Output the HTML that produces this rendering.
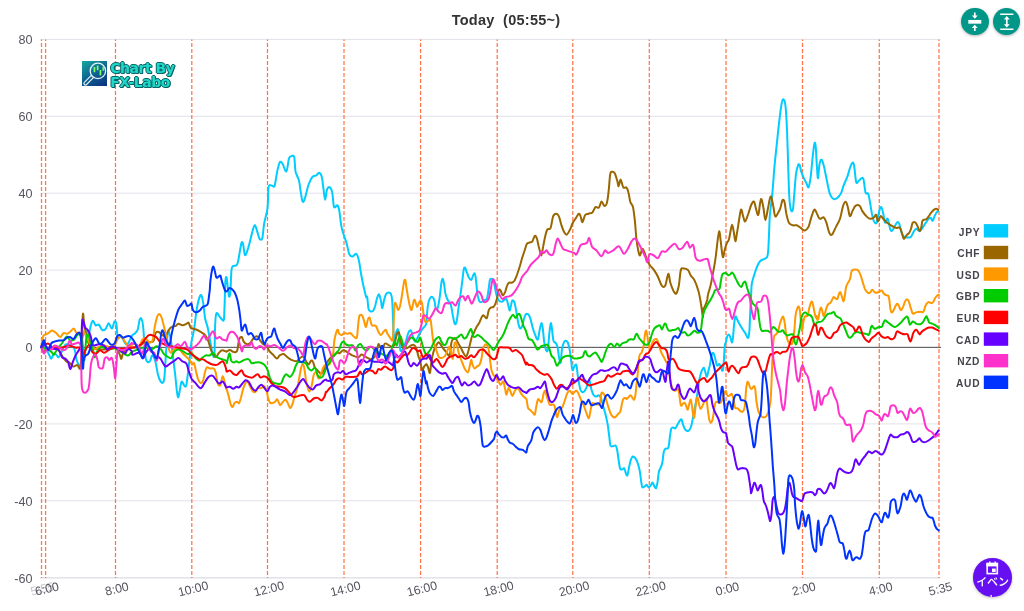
<!DOCTYPE html>
<html lang="ja"><head><meta charset="utf-8"><title>Today (05:55~)</title>
<style>
html,body{margin:0;padding:0;background:#fff;}
body{width:1024px;height:611px;position:relative;overflow:hidden;font-family:"Liberation Sans","Noto Sans CJK JP",sans-serif;}
svg text{font-family:"Liberation Sans","Noto Sans CJK JP",sans-serif;}
.title{position:absolute;left:0;top:10.6px;width:1012px;text-align:center;font-size:14.5px;letter-spacing:.25px;font-weight:bold;color:#333;white-space:pre;line-height:18px;}
.btn{position:absolute;width:27.6px;height:27.6px;border-radius:50%;background:#009688;box-shadow:0 1px 3px rgba(0,0,0,.3);}
.ev{position:absolute;left:973.2px;top:558.2px;width:38.6px;height:38.6px;border-radius:50%;background:#6610f2;box-shadow:0 1px 3px rgba(0,0,0,.25);color:#fff;text-align:center;overflow:hidden;}
.ev span{position:absolute;left:2px;right:2px;top:15.2px;font-size:11px;line-height:18px;font-weight:500;word-break:break-all;letter-spacing:-0.2px;}
.logo{position:absolute;left:81.5px;top:60.6px;width:25.6px;height:25.6px;background:linear-gradient(150deg,#17a8a0 0%,#0e6a92 45%,#0a2f80 100%);}
.logot{position:absolute;left:110.3px;top:60.55px;font-size:14px;line-height:14.2px;font-weight:bold;color:#1fd8c8;font-family:"DejaVu Sans","Liberation Sans",sans-serif;letter-spacing:-0.5px;text-shadow:1px 1px 0 #0a6468,-1px 0 0 #0a6468,0 -1px 0 #0a6468,1px 0 0 #0a6468,0 1px 0 #0a6468;}
</style></head><body>
<svg width="1024" height="611" viewBox="0 0 1024 611" style="position:absolute;left:0;top:0">
<line x1="40.6" x2="940.4" y1="39.4" y2="39.4" stroke="#e1e2ea" stroke-width="1"/>
<text x="32.5" y="44.0" text-anchor="end" font-size="12.6" fill="#555560">80</text>
<line x1="40.6" x2="940.4" y1="116.3" y2="116.3" stroke="#e1e2ea" stroke-width="1"/>
<text x="32.5" y="121.0" text-anchor="end" font-size="12.6" fill="#555560">60</text>
<line x1="40.6" x2="940.4" y1="193.2" y2="193.2" stroke="#e1e2ea" stroke-width="1"/>
<text x="32.5" y="198.0" text-anchor="end" font-size="12.6" fill="#555560">40</text>
<line x1="40.6" x2="940.4" y1="270.1" y2="270.1" stroke="#e1e2ea" stroke-width="1"/>
<text x="32.5" y="275.0" text-anchor="end" font-size="12.6" fill="#555560">20</text>
<line x1="41" x2="941" y1="347.0" y2="347.0" stroke="#e1e2ea" stroke-width="1"/>
<text x="32.5" y="352.0" text-anchor="end" font-size="12.6" fill="#555560">0</text>
<line x1="40.6" x2="940.4" y1="423.9" y2="423.9" stroke="#e1e2ea" stroke-width="1"/>
<text x="32.5" y="429.0" text-anchor="end" font-size="12.6" fill="#555560">-20</text>
<line x1="40.6" x2="940.4" y1="500.8" y2="500.8" stroke="#e1e2ea" stroke-width="1"/>
<text x="32.5" y="506.0" text-anchor="end" font-size="12.6" fill="#555560">-40</text>
<line x1="40.6" x2="940.4" y1="577.7" y2="577.7" stroke="#e1e2ea" stroke-width="1"/>
<text x="32.5" y="583.0" text-anchor="end" font-size="12.6" fill="#555560">-60</text>
<line x1="40.5" x2="940" y1="577.9" y2="577.9" stroke="#e2e2ea" stroke-width="1.3"/>
<line x1="41.5" x2="41.5" y1="39.5" y2="577.9" stroke="#ff6a3c" stroke-width="1.25" stroke-dasharray="4,2" stroke-dashoffset="2.5" opacity="0.92"/>
<line x1="45.6" x2="45.6" y1="39.5" y2="577.9" stroke="#ff6a3c" stroke-width="1.25" stroke-dasharray="4,2" stroke-dashoffset="2.5" opacity="0.92"/>
<line x1="115.5" x2="115.5" y1="39.5" y2="577.9" stroke="#ff6a3c" stroke-width="1.25" stroke-dasharray="4,2" stroke-dashoffset="2.5" opacity="0.92"/>
<line x1="191.8" x2="191.8" y1="39.5" y2="577.9" stroke="#ff6a3c" stroke-width="1.25" stroke-dasharray="4,2" stroke-dashoffset="2.5" opacity="0.92"/>
<line x1="267.5" x2="267.5" y1="39.5" y2="577.9" stroke="#ff6a3c" stroke-width="1.25" stroke-dasharray="4,2" stroke-dashoffset="2.5" opacity="0.92"/>
<line x1="344.0" x2="344.0" y1="39.5" y2="577.9" stroke="#ff6a3c" stroke-width="1.25" stroke-dasharray="4,2" stroke-dashoffset="2.5" opacity="0.92"/>
<line x1="420.6" x2="420.6" y1="39.5" y2="577.9" stroke="#ff6a3c" stroke-width="1.25" stroke-dasharray="4,2" stroke-dashoffset="2.5" opacity="0.92"/>
<line x1="497.2" x2="497.2" y1="39.5" y2="577.9" stroke="#ff6a3c" stroke-width="1.25" stroke-dasharray="4,2" stroke-dashoffset="2.5" opacity="0.92"/>
<line x1="572.8" x2="572.8" y1="39.5" y2="577.9" stroke="#ff6a3c" stroke-width="1.25" stroke-dasharray="4,2" stroke-dashoffset="2.5" opacity="0.92"/>
<line x1="649.3" x2="649.3" y1="39.5" y2="577.9" stroke="#ff6a3c" stroke-width="1.25" stroke-dasharray="4,2" stroke-dashoffset="2.5" opacity="0.92"/>
<line x1="726.0" x2="726.0" y1="39.5" y2="577.9" stroke="#ff6a3c" stroke-width="1.25" stroke-dasharray="4,2" stroke-dashoffset="2.5" opacity="0.92"/>
<line x1="802.5" x2="802.5" y1="39.5" y2="577.9" stroke="#ff6a3c" stroke-width="1.25" stroke-dasharray="4,2" stroke-dashoffset="2.5" opacity="0.92"/>
<line x1="879.3" x2="879.3" y1="39.5" y2="577.9" stroke="#ff6a3c" stroke-width="1.25" stroke-dasharray="4,2" stroke-dashoffset="2.5" opacity="0.92"/>
<line x1="939.0" x2="939.0" y1="39.5" y2="577.9" stroke="#ff6a3c" stroke-width="1.25" stroke-dasharray="4,2" stroke-dashoffset="2.5" opacity="0.92"/>
<line x1="41" x2="941" y1="347.4" y2="347.4" stroke="#555" stroke-width="1"/>
<path d="M41.2,347.1C41.9,347.3 43.9,346.9 45.2,348.2C46.5,349.5 48.1,353.0 49.1,354.7C50.1,356.5 50.4,358.6 51.1,358.7C51.7,358.8 52.3,356.2 53.0,355.4C53.8,354.6 54.8,353.8 55.6,354.1C56.5,354.4 57.5,357.2 58.3,357.4C59.0,357.5 59.6,355.8 60.2,354.7C60.9,353.6 61.2,352.6 62.2,350.8C63.2,349.1 64.1,344.7 66.1,344.3C68.1,343.8 72.2,345.6 74.0,348.2C75.7,350.8 75.7,357.1 76.6,360.0C77.4,362.8 78.4,364.1 79.2,365.2C80.0,366.3 80.6,371.1 81.2,366.5C81.7,361.9 81.5,343.6 82.5,337.7C83.4,331.8 86.0,331.9 87.0,331.2C88.1,330.4 88.4,334.2 89.0,333.1C89.7,332.1 90.3,326.7 91.0,324.6C91.6,322.6 92.2,320.6 92.9,320.7C93.7,320.8 94.6,324.6 95.6,325.3C96.5,325.9 97.7,323.9 98.8,324.6C99.9,325.4 101.0,329.1 102.1,329.9C103.2,330.6 104.3,330.3 105.4,329.2C106.5,328.1 107.6,323.4 108.6,323.3C109.7,323.2 110.9,328.9 111.9,328.6C112.9,328.2 113.8,322.0 114.5,321.4C115.3,320.7 116.0,321.9 116.5,324.6C117.0,327.4 117.0,335.8 117.8,337.7C118.6,339.7 119.9,335.5 121.1,336.4C122.3,337.3 123.9,341.6 125.0,343.0C126.1,344.3 126.5,345.4 127.6,344.3C128.7,343.2 130.6,338.0 131.5,336.4C132.5,334.8 132.6,335.0 133.2,334.5C133.8,334.0 134.4,334.1 135.2,333.2C135.9,332.3 137.0,331.6 137.8,329.3C138.5,327.0 139.1,321.2 139.7,319.5C140.4,317.7 140.9,317.8 141.4,318.8C142.0,319.8 142.5,321.4 143.0,325.3C143.5,329.3 143.9,336.9 144.3,342.4C144.8,347.8 145.1,354.8 145.6,358.1C146.2,361.3 146.8,361.6 147.6,362.0C148.4,362.4 149.5,361.8 150.2,360.7C151.0,359.6 151.3,355.2 152.2,355.4C153.1,355.7 154.5,358.7 155.5,362.0C156.4,365.3 157.2,371.8 158.1,375.1C158.9,378.4 159.8,380.4 160.7,381.6C161.6,382.8 162.6,383.4 163.3,382.3C164.0,381.2 164.2,379.1 164.6,375.1C165.0,371.0 165.3,363.5 165.7,358.1C166.0,352.6 166.4,346.9 166.8,342.4C167.3,337.8 167.8,330.6 168.5,330.6C169.3,330.6 170.4,337.8 171.2,342.4C171.9,346.9 172.5,352.8 173.1,358.1C173.8,363.3 174.4,368.1 175.1,373.8C175.7,379.4 176.5,388.2 177.0,392.1C177.6,396.0 177.9,397.5 178.4,397.3C178.8,397.1 179.1,393.4 179.7,390.8C180.2,388.2 180.9,382.5 181.6,381.6C182.4,380.8 183.5,384.9 184.2,385.5C185.0,386.2 185.6,387.9 186.2,385.5C186.9,383.2 187.6,375.7 188.2,371.2C188.8,366.6 189.2,362.9 189.7,358.1C190.3,353.3 190.7,347.2 191.4,342.4C192.2,337.6 193.2,334.7 194.1,329.3C194.9,323.8 195.8,314.9 196.7,309.6C197.6,304.4 198.5,300.3 199.3,297.9C200.1,295.5 200.6,294.4 201.3,295.2C201.9,296.1 202.6,299.2 203.2,303.1C203.9,307.0 204.4,314.7 205.2,318.8C206.0,322.9 206.9,324.0 207.8,328.0C208.7,331.9 209.7,338.2 210.4,342.4C211.2,346.5 211.7,350.6 212.4,352.8C213.0,355.0 213.9,359.4 214.4,355.4C214.8,351.5 214.7,336.2 215.0,329.3C215.3,322.3 215.4,315.5 216.3,313.6C217.2,311.6 219.0,316.3 220.2,317.5C221.4,318.7 222.9,321.1 223.5,320.8C224.2,320.4 224.0,319.6 224.2,315.4C224.4,311.3 224.7,301.7 224.9,295.8C225.1,289.9 225.2,283.2 225.5,280.1C225.8,277.1 226.2,276.4 226.6,277.5C226.9,278.6 227.3,283.5 227.7,286.6C228.2,289.8 228.6,295.6 229.1,296.5C229.5,297.3 230.0,296.1 230.4,291.9C230.8,287.6 231.0,275.2 231.4,270.9C231.8,266.7 232.0,267.3 232.7,266.4C233.5,265.4 235.1,266.2 236.0,265.4C236.9,264.7 237.1,265.5 238.0,261.8C238.9,258.1 240.5,246.2 241.4,243.4C242.2,240.6 242.6,242.7 243.2,244.7C243.8,246.7 244.2,254.7 245.0,255.2C245.9,255.6 247.2,251.3 248.4,247.3C249.7,243.4 251.3,235.3 252.4,231.6C253.4,227.9 254.1,224.9 255.0,225.1C255.8,225.3 256.8,230.6 257.6,232.9C258.4,235.2 258.9,238.1 259.7,239.0C260.5,239.8 261.6,240.7 262.3,238.2C263.0,235.6 263.3,228.8 264.1,223.8C265.0,218.8 266.8,214.2 267.5,208.1C268.3,202.0 267.8,190.8 268.6,187.1C269.3,183.4 271.0,186.0 272.0,185.8C273.0,185.6 273.7,188.2 274.6,185.8C275.5,183.4 276.4,175.3 277.2,171.4C278.1,167.5 279.0,163.6 279.8,162.3C280.7,160.9 281.4,162.0 282.5,163.6C283.6,165.1 285.3,172.3 286.4,171.4C287.5,170.5 288.1,160.9 289.0,158.3C289.9,155.8 290.8,156.4 291.6,156.2C292.5,156.0 293.6,154.5 294.2,157.0C294.9,159.5 294.8,167.5 295.5,171.4C296.3,175.3 298.1,177.1 299.0,180.6C299.8,184.1 300.2,188.9 300.8,192.4C301.4,195.8 302.0,200.4 302.6,201.5C303.3,202.6 303.7,201.7 304.7,198.9C305.7,196.1 307.3,188.2 308.6,184.5C309.9,180.8 311.3,178.2 312.6,176.6C313.9,175.1 315.4,176.0 316.5,175.3C317.6,174.7 318.2,172.5 319.1,172.7C320.0,172.9 321.0,173.8 321.7,176.6C322.5,179.5 323.0,185.9 323.6,189.7C324.1,193.6 324.6,199.7 325.1,199.7C325.7,199.7 326.2,191.8 327.0,189.7C327.7,187.6 328.7,186.7 329.6,187.1C330.5,187.6 331.5,189.1 332.2,192.4C332.9,195.6 333.2,204.6 334.0,206.8C334.9,208.9 336.6,204.8 337.4,205.4C338.3,206.1 338.6,207.2 339.3,210.7C339.9,214.2 340.6,222.2 341.4,226.4C342.1,230.5 343.1,232.7 344.0,235.5C344.9,238.4 345.7,240.3 346.6,243.4C347.5,246.5 348.3,251.7 349.2,253.9C350.2,256.1 351.2,256.5 352.4,256.5C353.5,256.5 355.2,253.2 356.3,253.9C357.4,254.5 358.1,257.1 358.9,260.4C359.7,263.7 360.2,269.1 361.0,273.5C361.8,277.9 362.7,282.7 363.6,286.6C364.5,290.5 365.6,295.3 366.2,297.1C366.8,298.8 366.8,295.1 367.2,297.0C367.6,299.0 368.0,306.4 368.5,308.8C369.1,311.2 369.7,311.1 370.5,311.4C371.3,311.7 372.4,311.6 373.1,310.8C373.9,309.9 374.4,308.3 375.1,306.2C375.7,304.1 376.4,300.3 377.0,298.3C377.7,296.4 378.4,294.0 379.0,294.4C379.7,294.8 380.4,298.7 381.0,300.9C381.5,303.2 381.7,308.4 382.3,308.1C382.8,307.9 383.6,302.0 384.2,299.6C384.9,297.2 385.4,294.9 386.2,293.7C387.0,292.5 388.1,292.4 388.8,292.4C389.6,292.4 390.2,292.5 390.8,293.7C391.3,294.9 391.7,295.4 392.1,299.6C392.5,303.9 392.8,313.2 393.0,319.3C393.3,325.4 393.4,332.4 393.5,336.3C393.7,340.2 393.8,343.0 394.1,342.8C394.4,342.6 394.8,337.3 395.4,335.0C396.0,332.7 397.1,329.1 397.7,329.1C398.4,329.1 398.9,331.8 399.3,335.0C399.7,338.1 399.6,345.3 400.0,348.1C400.3,350.8 400.7,351.3 401.3,351.3C401.8,351.3 402.5,349.7 403.2,348.1C404.0,346.4 405.0,344.1 405.8,341.5C406.7,338.9 407.6,334.2 408.5,332.4C409.3,330.5 410.2,330.0 410.8,330.4C411.5,330.8 411.7,333.1 412.4,335.0C413.1,336.8 414.1,341.1 415.0,341.5C415.9,342.0 416.8,339.1 417.6,337.6C418.5,336.1 419.4,333.9 420.2,332.4C421.1,330.8 421.9,329.7 422.9,328.4C423.8,327.1 425.4,326.2 426.0,324.5C426.6,322.8 426.3,321.3 426.7,318.0C427.0,314.8 427.4,308.2 428.0,304.9C428.5,301.7 429.2,299.7 429.9,298.4C430.7,297.1 431.8,296.7 432.5,297.1C433.3,297.5 434.0,299.1 434.5,301.0C435.1,303.0 435.3,307.8 435.8,308.9C436.4,310.0 437.1,309.5 437.8,307.6C438.4,305.6 439.1,301.2 439.7,297.1C440.4,292.9 440.9,285.8 441.4,282.7C441.9,279.6 442.3,278.6 442.8,278.8C443.2,279.0 443.6,281.4 444.1,284.0C444.5,286.6 444.9,291.6 445.6,294.5C446.3,297.3 447.4,299.3 448.3,301.0C449.1,302.8 450.1,302.5 450.9,304.9C451.6,307.3 452.2,312.3 452.8,315.4C453.5,318.6 454.1,323.1 454.8,323.9C455.5,324.8 456.1,323.6 456.8,320.7C457.4,317.7 458.1,310.8 458.7,306.3C459.4,301.7 460.1,297.5 460.7,293.2C461.3,288.8 461.9,284.0 462.4,280.1C462.9,276.2 463.3,271.7 463.7,269.6C464.1,267.5 464.5,267.3 465.0,267.6C465.5,268.0 466.0,270.0 466.6,271.6C467.2,273.1 467.8,275.4 468.5,276.8C469.3,278.2 470.4,280.3 471.2,280.1C471.9,279.9 472.5,276.6 473.1,275.5C473.7,274.4 474.2,272.8 474.7,273.5C475.2,274.3 475.6,276.8 476.0,280.1C476.4,283.4 476.8,289.8 477.3,293.2C477.8,296.5 478.4,298.8 479.0,300.4C479.6,301.9 480.2,302.3 481.0,302.3C481.7,302.3 482.6,301.0 483.6,300.4C484.6,299.7 486.0,300.3 486.9,298.4C487.7,296.5 488.1,292.3 488.6,289.2C489.1,286.2 489.4,281.8 489.9,280.1C490.4,278.3 490.9,278.8 491.4,278.8C492.0,278.8 492.9,278.8 493.4,280.1C494.0,281.4 494.2,284.0 494.7,286.6C495.3,289.2 496.0,293.5 496.7,295.8C497.3,298.1 497.8,299.4 498.6,300.4C499.5,301.3 500.9,301.8 501.9,301.7C502.9,301.6 503.8,300.1 504.5,299.7C505.3,299.3 505.9,298.2 506.5,299.1C507.1,299.9 507.7,303.0 508.2,304.9C508.7,306.9 509.3,310.8 509.8,310.8C510.2,310.8 510.6,306.7 511.1,304.9C511.5,303.2 511.8,300.8 512.4,300.4C512.9,299.9 513.7,300.5 514.4,302.3C515.0,304.2 515.7,308.0 516.3,311.5C517.0,315.0 517.6,320.4 518.3,323.3C518.9,326.1 519.6,328.1 520.2,328.5C520.9,328.9 521.5,327.6 522.2,325.9C522.9,324.1 523.5,320.0 524.2,318.0C524.8,316.1 525.6,314.8 526.0,314.1C526.4,313.4 526.2,314.0 526.7,314.1C527.1,314.1 528.0,313.7 528.6,314.6C529.3,315.4 529.9,317.1 530.6,319.2C531.2,321.2 531.8,324.4 532.5,327.0C533.3,329.6 534.3,332.8 535.2,334.9C536.0,336.9 537.0,340.3 537.8,339.5C538.5,338.6 539.1,332.4 539.7,329.6C540.4,326.9 540.9,323.3 541.4,323.1C541.9,322.9 542.3,325.1 542.8,328.3C543.2,331.6 543.7,339.0 544.3,342.7C544.9,346.4 545.7,349.5 546.3,350.6C546.9,351.7 547.5,352.1 548.0,349.3C548.5,346.4 548.8,337.9 549.3,333.6C549.8,329.2 550.4,323.5 550.9,323.1C551.3,322.7 551.7,328.0 552.2,330.9C552.6,333.9 552.8,338.7 553.5,340.8C554.1,342.8 555.4,342.2 556.1,343.4C556.8,344.6 557.1,345.2 557.7,348.0C558.2,350.7 558.9,357.3 559.4,359.7C559.9,362.1 560.2,364.1 560.7,362.4C561.1,360.6 561.4,352.6 562.0,349.3C562.5,345.9 563.3,343.5 564.0,342.1C564.6,340.7 565.3,340.7 565.9,340.8C566.6,340.9 567.2,341.1 567.9,342.7C568.5,344.4 569.3,347.5 569.8,350.6C570.4,353.6 570.7,357.8 571.2,361.0C571.6,364.3 571.9,369.3 572.5,370.2C573.0,371.1 573.8,367.2 574.4,366.3C575.1,365.4 575.8,363.5 576.4,365.0C576.9,366.4 577.3,372.1 577.7,375.1C578.1,378.0 578.6,380.5 579.0,382.9C579.4,385.3 579.8,387.9 580.3,389.5C580.9,391.0 581.6,391.7 582.3,392.1C582.9,392.4 583.6,392.1 584.2,391.4C584.9,390.8 585.7,389.3 586.2,388.1C586.8,386.9 587.1,385.5 587.5,384.2C588.0,382.9 588.4,380.5 588.8,380.3C589.3,380.1 589.7,381.4 590.1,382.9C590.6,384.4 590.9,387.5 591.4,389.5C592.0,391.4 592.6,393.5 593.4,394.7C594.2,395.9 595.2,396.5 596.0,396.6C596.9,396.8 597.9,395.2 598.6,395.3C599.4,395.4 600.1,396.3 600.6,397.3C601.2,398.3 601.5,399.7 601.9,401.2C602.4,402.8 602.6,404.3 603.2,406.5C603.8,408.6 604.7,411.0 605.4,414.1C606.2,417.2 607.1,421.2 607.8,425.1C608.4,429.1 608.9,434.3 609.4,437.7C609.8,441.1 609.9,444.1 610.4,445.5C611.0,447.0 611.6,446.3 612.5,446.3C613.4,446.3 614.8,444.9 615.6,445.5C616.4,446.2 616.7,447.6 617.2,450.3C617.7,452.9 618.3,458.1 618.8,461.3C619.3,464.4 619.7,467.8 620.3,469.1C621.0,470.4 622.0,469.2 622.7,469.1C623.4,469.0 623.7,467.7 624.3,468.3C624.8,469.0 625.3,471.9 625.8,473.0C626.4,474.2 626.9,476.3 627.4,475.4C627.9,474.5 628.4,470.2 629.0,467.5C629.6,464.9 630.2,461.5 630.9,459.7C631.5,457.9 632.2,456.8 632.9,456.5C633.6,456.3 634.5,457.1 635.3,458.1C636.1,459.2 636.9,460.7 637.6,462.8C638.4,464.9 639.1,467.5 639.7,470.7C640.3,473.8 640.8,478.9 641.2,481.7C641.7,484.4 641.8,486.4 642.3,487.2C642.9,488.0 644.0,486.8 644.7,486.4C645.4,486.0 645.9,484.7 646.6,484.8C647.2,484.9 647.9,487.0 648.6,487.2C649.3,487.3 650.0,486.4 650.7,485.6C651.3,484.8 651.9,482.3 652.5,482.5C653.2,482.6 653.8,485.5 654.4,486.4C655.0,487.3 655.6,488.7 656.2,488.0C656.7,487.2 657.1,484.3 657.6,481.7C658.0,479.1 658.3,474.6 658.8,472.2C659.3,469.9 660.1,469.1 660.7,467.5C661.3,466.0 661.8,465.4 662.3,462.8C662.8,460.2 663.3,454.2 663.8,451.8C664.4,449.5 664.7,449.3 665.4,448.7C666.2,448.0 667.5,449.7 668.2,447.9C669.0,446.1 669.3,440.8 669.8,437.7C670.3,434.6 670.6,430.8 671.1,429.1C671.6,427.4 672.3,427.6 673.0,427.5C673.7,427.4 674.5,428.8 675.3,428.3C676.1,427.7 676.9,425.7 677.7,424.3C678.5,423.0 679.4,421.2 680.0,420.4C680.7,419.6 681.1,418.8 681.6,419.6C682.1,420.4 682.5,423.4 683.2,425.1C683.8,426.8 684.6,428.9 685.5,429.8C686.4,430.8 687.7,431.2 688.7,430.6C689.6,430.1 690.4,428.5 691.0,426.7C691.7,424.9 692.1,422.3 692.6,419.6C693.1,417.0 693.6,413.7 694.2,411.0C694.7,408.2 695.2,406.0 695.7,403.1C696.3,400.3 696.8,396.9 697.3,393.8C697.8,390.8 698.2,387.5 698.6,384.7C699.1,381.8 699.4,379.2 700.0,376.8C700.5,374.4 701.3,371.8 701.9,370.3C702.6,368.8 703.3,367.5 703.9,367.7C704.4,367.9 704.7,370.1 705.2,371.6C705.7,373.1 706.3,377.1 706.9,376.8C707.4,376.6 708.0,372.2 708.5,370.3C708.9,368.4 709.2,368.0 709.8,365.4C710.3,362.9 711.1,357.0 711.7,355.0C712.3,352.9 712.9,352.6 713.4,353.0C714.0,353.4 714.4,355.5 715.0,357.6C715.6,359.7 716.2,364.4 717.0,365.4C717.7,366.5 718.7,363.3 719.6,364.1C720.5,365.0 721.5,370.5 722.2,370.7C722.9,370.9 723.1,369.6 723.5,365.4C723.9,361.3 724.4,349.7 724.8,345.8C725.2,341.9 725.6,343.4 726.0,341.9C726.4,340.4 726.7,337.9 727.1,336.7C727.6,335.5 728.3,334.4 728.8,334.5C729.4,334.6 729.9,336.0 730.4,337.4C730.9,338.7 731.5,342.6 732.0,342.6C732.4,342.6 732.7,340.4 733.0,337.4C733.4,334.3 733.7,327.8 734.1,324.3C734.5,320.8 734.9,317.3 735.4,316.4C735.9,315.5 736.2,317.7 736.9,319.0C737.6,320.3 738.6,322.5 739.6,324.3C740.5,326.0 741.9,328.0 742.8,329.5C743.8,331.0 744.6,332.0 745.5,333.4C746.3,334.8 747.4,338.4 748.1,338.0C748.7,337.6 749.0,335.3 749.4,330.8C749.7,326.3 750.0,317.1 750.3,311.2C750.6,305.3 750.8,299.9 751.1,295.5C751.3,291.0 751.3,287.5 751.7,284.3C752.2,281.2 752.9,279.1 753.7,276.5C754.5,273.9 755.4,270.9 756.3,268.6C757.2,266.3 758.1,264.2 758.9,262.7C759.8,261.3 760.6,260.8 761.5,260.1C762.5,259.5 763.8,259.5 764.8,258.8C765.8,258.2 766.9,258.1 767.4,256.2C768.0,254.3 768.1,251.7 768.4,247.7C768.6,243.7 768.9,237.3 769.1,232.0C769.4,226.7 769.3,222.7 769.8,216.1C770.4,209.6 771.7,200.9 772.4,192.6C773.2,184.3 773.7,175.1 774.5,166.4C775.3,157.7 776.3,148.5 777.2,140.2C778.0,131.9 779.0,123.0 779.8,116.6C780.6,110.3 781.2,105.1 781.9,102.3C782.5,99.4 783.1,99.0 783.7,99.6C784.3,100.3 785.0,100.7 785.5,106.2C786.1,111.6 786.7,122.8 787.1,132.4C787.5,142.0 787.8,153.3 788.1,163.8C788.5,174.2 788.8,187.5 789.2,195.2C789.6,202.8 790.2,207.2 790.8,209.6C791.4,212.0 792.3,212.0 792.9,209.6C793.4,207.2 793.6,201.1 794.2,195.2C794.7,189.3 795.3,179.3 796.0,174.2C796.7,169.2 797.5,166.6 798.1,165.1C798.7,163.6 799.1,164.0 799.7,165.1C800.2,166.2 800.5,169.4 801.2,171.6C801.9,173.8 803.0,176.2 803.9,178.2C804.7,180.1 805.7,181.9 806.5,183.4C807.3,184.9 807.9,188.4 808.6,187.3C809.3,186.2 810.0,181.7 810.7,176.9C811.3,172.1 811.9,164.0 812.5,158.5C813.1,153.1 813.8,146.3 814.3,144.1C814.8,142.0 815.2,141.7 815.6,145.4C816.1,149.2 816.5,160.9 816.9,166.4C817.3,171.8 817.6,178.6 818.0,178.2C818.4,177.7 818.9,166.8 819.6,163.8C820.2,160.7 820.9,159.2 821.7,159.8C822.4,160.5 823.4,164.2 824.3,167.7C825.1,171.2 826.0,176.6 826.9,180.8C827.8,184.9 828.6,189.7 829.5,192.6C830.4,195.4 831.2,196.7 832.1,197.8C833.1,198.9 834.2,199.3 835.3,199.1C836.4,198.9 837.7,197.6 838.7,196.5C839.7,195.4 840.4,194.5 841.3,192.6C842.2,190.6 842.9,187.3 843.9,184.7C844.9,182.1 846.2,179.9 847.3,176.9C848.4,173.8 849.5,168.8 850.5,166.4C851.4,164.0 852.4,162.2 853.1,162.5C853.7,162.7 853.9,164.4 854.4,167.7C854.9,171.0 855.5,179.9 856.2,182.1C857.0,184.3 858.0,181.4 858.8,180.8C859.7,180.1 860.7,178.4 861.4,178.2C862.2,177.9 862.8,177.1 863.5,179.5C864.2,181.9 864.8,190.2 865.6,192.6C866.4,195.0 867.5,192.1 868.3,193.9C869.0,195.6 869.5,199.8 870.1,203.0C870.7,206.3 871.3,210.5 871.9,213.5C872.6,216.6 873.2,219.8 874.0,221.4C874.8,222.9 875.8,224.4 876.6,222.7C877.5,220.9 878.5,213.5 879.2,210.9C880.0,208.3 880.7,206.5 881.3,207.0C882.0,207.4 882.6,210.9 883.2,213.5C883.8,216.1 884.3,221.8 885.0,222.7C885.7,223.5 886.8,217.7 887.6,218.7C888.5,219.8 889.5,227.3 890.2,229.2C891.0,231.2 891.4,231.4 892.3,230.5C893.3,229.7 895.1,225.4 896.0,224.0C896.9,222.6 897.2,222.0 897.8,222.1C898.4,222.2 899.1,223.2 899.6,224.6C900.1,225.9 900.3,228.3 900.8,230.0C901.3,231.8 902.1,233.8 902.7,234.9C903.3,236.1 903.7,236.4 904.5,236.8C905.3,237.2 906.5,237.3 907.6,237.4C908.6,237.4 909.8,237.6 910.6,237.1C911.4,236.6 911.8,235.4 912.4,234.3C913.0,233.2 913.6,231.6 914.3,230.7C915.0,229.7 916.0,228.8 916.7,228.8C917.4,228.8 917.8,230.5 918.5,230.7C919.3,230.9 920.2,230.8 921.0,230.0C921.8,229.3 922.6,227.6 923.4,226.4C924.2,225.2 925.0,223.9 925.9,222.7C926.7,221.5 927.5,219.9 928.3,219.1C929.1,218.2 930.0,217.5 930.7,217.8C931.5,218.1 932.0,221.1 932.6,220.9C933.2,220.7 933.8,217.9 934.4,216.6C935.0,215.3 935.6,213.9 936.2,213.0C936.8,212.0 937.8,211.4 938.1,211.1" fill="none" stroke="#00ccff" stroke-width="2" stroke-linejoin="round" stroke-linecap="round"/>
<path d="M41.2,347.1C41.7,348.0 43.1,351.7 43.9,352.1C44.6,352.5 44.9,350.2 45.8,349.5C46.7,348.8 47.7,348.3 49.1,348.2C50.5,348.1 52.7,348.5 54.3,348.8C56.0,349.2 57.6,349.0 58.9,350.2C60.2,351.4 61.0,354.2 62.2,356.0C63.4,357.9 64.9,360.2 66.1,361.3C67.3,362.4 68.2,361.7 69.4,362.6C70.6,363.5 72.0,366.1 73.3,366.5C74.6,366.9 76.0,364.7 77.2,364.9C78.4,365.2 79.7,371.3 80.5,367.8C81.3,364.4 81.4,353.2 81.8,344.3C82.2,335.3 82.5,317.4 82.9,314.2C83.3,310.9 83.6,321.1 84.2,324.6C84.8,328.1 85.7,332.1 86.4,335.1C87.1,338.2 87.4,340.8 88.4,343.0C89.3,345.1 90.1,347.1 92.3,348.2C94.5,349.3 98.6,349.4 101.4,349.5C104.3,349.6 106.9,349.1 109.3,348.8C111.7,348.6 114.1,347.2 115.8,348.2C117.6,349.2 118.9,352.9 119.8,354.7C120.7,356.5 120.8,359.1 121.3,358.9C121.9,358.7 122.2,355.0 123.0,353.4C123.9,351.9 124.5,350.5 126.3,349.5C128.1,348.5 131.7,348.1 133.9,347.6C136.0,347.1 137.3,347.2 139.1,346.3C140.8,345.4 142.7,343.0 144.3,342.4C146.0,341.7 147.4,342.6 148.9,342.4C150.4,342.1 152.4,342.6 153.5,341.0C154.6,339.5 154.6,334.7 155.5,333.2C156.3,331.7 157.7,331.7 158.7,331.9C159.7,332.1 160.2,333.8 161.3,334.5C162.4,335.2 164.0,336.7 165.3,335.8C166.6,334.9 168.0,330.8 169.2,329.3C170.4,327.7 171.4,327.2 172.5,326.6C173.6,326.1 174.8,326.5 175.7,326.0C176.7,325.5 177.3,323.9 178.4,323.8C179.4,323.7 181.0,325.3 182.3,325.3C183.6,325.4 185.2,324.5 186.2,324.0C187.3,323.6 187.8,322.1 188.6,322.7C189.3,323.4 189.7,326.9 190.8,328.0C191.9,329.0 193.7,328.6 195.4,329.3C197.0,329.9 199.1,331.0 200.6,331.9C202.1,332.8 203.3,333.2 204.5,334.5C205.7,335.8 206.7,337.1 207.8,339.7C208.9,342.4 210.1,347.6 211.1,350.2C212.1,352.8 212.8,354.4 213.7,355.4C214.6,356.5 215.4,357.2 216.3,356.8C217.2,356.3 218.0,353.9 218.9,352.8C219.9,351.7 221.0,350.4 222.2,350.2C223.4,350.0 225.3,351.3 226.0,351.5C226.7,351.7 226.0,351.8 226.7,351.5C227.3,351.3 228.7,350.0 229.9,350.1C231.1,350.2 232.7,352.0 233.9,352.1C235.1,352.2 236.3,352.8 237.1,350.8C238.0,348.7 238.3,341.9 239.1,339.6C239.9,337.3 240.9,336.7 241.7,337.0C242.5,337.3 242.8,340.4 243.7,341.6C244.5,342.8 245.9,344.0 246.9,344.2C248.0,344.4 249.1,343.9 250.2,342.9C251.3,341.9 252.3,339.4 253.5,338.3C254.7,337.2 256.3,336.0 257.4,336.4C258.5,336.7 259.0,339.0 260.0,340.3C261.0,341.6 262.2,343.2 263.3,344.2C264.4,345.2 265.6,345.1 266.6,346.2C267.6,347.3 268.1,349.3 269.2,350.8C270.3,352.2 271.8,353.4 273.1,354.7C274.4,356.0 276.0,358.5 277.0,358.6C278.1,358.7 278.6,356.1 279.7,355.3C280.8,354.6 282.3,353.7 283.6,354.0C284.9,354.4 286.2,356.3 287.5,357.3C288.8,358.3 289.9,359.3 291.4,359.9C293.0,360.6 295.3,361.6 296.7,361.2C298.1,360.9 298.9,358.7 300.0,358.0C301.0,357.2 302.2,356.2 303.2,356.6C304.2,357.1 305.0,359.3 305.8,360.6C306.7,361.9 307.6,364.5 308.5,364.5C309.3,364.5 310.3,361.0 311.1,360.6C311.8,360.1 312.4,360.7 313.0,361.9C313.7,363.1 314.2,366.4 315.0,367.8C315.8,369.2 316.6,369.4 317.6,370.4C318.6,371.4 319.9,373.6 320.9,373.7C321.9,373.8 322.6,372.8 323.5,371.0C324.5,369.3 325.6,365.2 326.7,363.1C327.7,361.0 328.7,359.7 329.9,358.5C331.1,357.3 332.7,356.9 333.9,355.9C335.1,354.9 336.1,353.1 337.1,352.6C338.1,352.2 338.9,353.6 339.7,353.3C340.6,353.0 341.5,351.1 342.4,350.7C343.2,350.2 343.9,350.2 345.0,350.7C346.1,351.1 347.5,352.4 348.9,353.3C350.3,354.2 351.9,355.3 353.5,355.9C355.1,356.6 357.4,357.4 358.7,357.2C360.0,357.0 360.2,354.7 361.3,354.6C362.4,354.5 363.7,355.8 365.3,356.6C366.8,357.3 369.0,359.1 370.5,359.2C372.0,359.3 373.3,358.6 374.4,357.2C375.5,355.8 376.4,352.9 377.0,350.7C377.7,348.5 377.8,344.8 378.4,344.1C378.9,343.5 379.6,346.1 380.3,346.8C381.1,347.4 382.2,348.6 382.9,348.1C383.7,347.5 384.0,344.0 384.9,343.5C385.8,342.9 387.1,344.2 388.2,344.8C389.3,345.3 390.5,346.6 391.4,346.8C392.4,346.9 393.3,347.0 394.1,345.4C394.8,343.9 395.4,339.8 396.0,337.6C396.6,335.4 397.2,333.0 397.7,332.4C398.3,331.7 398.8,332.1 399.3,333.7C399.8,335.2 400.0,339.1 400.6,341.5C401.3,343.9 402.1,347.0 403.2,348.1C404.3,349.2 405.8,348.5 407.2,348.1C408.5,347.6 410.0,346.0 411.1,345.4C412.2,344.9 412.8,344.4 413.7,344.8C414.6,345.2 415.6,346.2 416.3,348.1C417.1,349.9 417.6,353.7 418.3,355.9C418.9,358.1 419.6,358.8 420.2,361.2C420.9,363.6 421.5,369.4 422.2,370.3C422.9,371.2 423.5,367.4 424.2,366.4C424.8,365.4 425.6,364.8 426.0,364.4C426.4,364.1 426.3,363.9 426.7,364.4C427.0,364.8 427.4,365.7 428.0,367.1C428.5,368.6 429.4,373.7 429.9,373.0C430.5,372.4 430.7,366.6 431.2,363.2C431.8,359.8 432.4,355.6 433.2,352.7C434.0,349.9 434.9,347.9 435.8,346.2C436.7,344.4 437.7,342.6 438.4,342.3C439.2,341.9 439.6,343.2 440.4,344.2C441.2,345.2 442.0,346.8 443.0,348.1C444.0,349.5 445.2,350.9 446.3,352.1C447.4,353.3 448.7,357.0 449.6,355.3C450.4,353.7 450.9,345.0 451.5,342.3C452.2,339.5 452.8,339.6 453.5,339.0C454.1,338.3 454.7,337.7 455.5,338.3C456.2,339.0 457.2,341.4 458.1,342.9C458.9,344.4 459.8,345.9 460.7,347.5C461.6,349.1 462.4,351.2 463.3,352.7C464.2,354.2 465.2,356.6 465.9,356.6C466.7,356.6 467.2,354.7 467.9,352.7C468.5,350.8 469.2,347.5 469.8,344.9C470.5,342.3 471.2,339.0 471.8,337.0C472.5,335.1 473.0,334.7 473.8,333.1C474.5,331.5 475.5,328.8 476.4,327.2C477.3,325.6 478.2,324.7 479.0,323.3C479.8,321.9 480.3,320.0 481.0,318.7C481.6,317.4 482.3,315.7 482.9,315.4C483.6,315.1 484.2,316.3 484.9,316.7C485.6,317.2 486.2,319.1 486.9,318.0C487.5,316.9 488.2,311.9 488.8,310.2C489.5,308.4 490.0,308.1 490.8,307.6C491.6,307.0 492.6,307.6 493.4,306.9C494.2,306.3 494.7,305.3 495.4,303.6C496.0,302.0 496.8,299.3 497.3,297.1C497.9,294.9 498.1,291.7 498.6,290.5C499.1,289.3 499.8,289.3 500.3,289.9C500.9,290.4 501.4,292.9 501.9,293.8C502.4,294.7 502.7,295.5 503.2,295.1C503.8,294.8 504.5,293.5 505.2,291.9C505.8,290.2 506.5,286.8 507.2,285.3C507.8,283.8 508.4,283.1 509.1,282.7C509.9,282.3 510.9,283.0 511.7,282.7C512.6,282.4 513.5,282.0 514.4,280.7C515.2,279.4 516.1,277.1 517.0,274.8C517.8,272.6 518.7,269.8 519.6,267.0C520.5,264.2 521.3,260.7 522.2,257.8C523.1,255.0 524.0,252.3 524.8,250.0C525.6,247.6 526.2,245.0 526.9,243.8C527.7,242.5 528.7,242.8 529.6,242.5C530.4,242.1 531.3,242.8 532.2,241.7C533.1,240.6 534.0,236.4 534.8,235.9C535.6,235.4 536.2,236.8 536.9,238.5C537.5,240.3 538.0,243.6 538.7,246.4C539.5,249.2 540.6,255.5 541.3,255.5C542.1,255.5 542.5,249.7 543.2,246.4C543.8,243.1 544.6,238.8 545.3,235.9C546.0,233.1 546.5,230.7 547.4,229.4C548.2,228.1 549.5,230.2 550.5,228.1C551.5,225.9 552.2,218.7 553.1,216.3C554.1,213.9 555.3,213.7 556.3,213.7C557.2,213.7 558.0,214.3 558.9,216.3C559.8,218.2 560.6,222.8 561.5,225.4C562.4,228.1 563.2,230.5 564.1,232.0C565.0,233.5 565.7,235.0 566.7,234.6C567.7,234.2 569.1,231.3 570.1,229.4C571.1,227.4 571.8,224.8 572.8,222.8C573.8,220.9 575.2,219.1 576.2,217.6C577.2,216.1 578.0,213.9 578.8,213.7C579.5,213.4 580.0,214.8 580.6,216.3C581.2,217.7 581.7,222.5 582.4,222.3C583.2,222.1 584.1,216.4 585.1,215.0C586.1,213.5 587.2,214.1 588.5,213.7C589.7,213.2 591.2,213.4 592.4,212.4C593.6,211.3 594.4,207.9 595.5,207.1C596.6,206.3 597.9,208.6 598.9,207.6C599.9,206.7 600.7,201.7 601.5,201.4C602.4,201.1 603.3,205.5 604.2,205.8C605.0,206.1 606.0,205.6 606.8,203.2C607.5,200.8 608.1,196.2 608.6,191.4C609.2,186.6 609.6,177.7 610.2,174.4C610.8,171.1 611.3,172.0 612.0,171.8C612.8,171.6 613.8,171.6 614.6,173.1C615.5,174.6 616.6,178.8 617.3,180.9C617.9,183.1 618.0,186.4 618.6,186.2C619.1,186.0 619.9,179.4 620.7,179.6C621.4,179.9 622.3,186.2 623.3,187.5C624.2,188.8 625.5,186.6 626.4,187.5C627.3,188.4 627.9,190.3 628.5,192.7C629.2,195.1 629.6,199.5 630.3,201.9C631.1,204.3 632.2,204.1 633.0,207.1C633.7,210.2 634.2,215.0 634.8,220.2C635.4,225.4 635.8,233.5 636.4,238.5C636.9,243.6 637.6,247.5 638.2,250.3C638.8,253.2 639.4,255.8 640.0,255.5C640.7,255.3 641.4,249.7 642.1,249.0C642.8,248.4 643.3,249.7 644.2,251.6C645.1,253.6 646.3,258.4 647.4,260.8C648.4,263.2 649.4,264.5 650.5,266.0C651.6,267.5 652.7,268.2 653.9,269.9C655.1,271.7 656.5,273.9 657.8,276.5C659.1,279.1 660.5,284.1 661.8,285.7C663.0,287.2 664.1,287.6 665.2,285.7C666.3,283.7 667.4,274.3 668.3,273.9C669.2,273.4 669.5,280.2 670.4,283.0C671.3,285.9 672.6,289.1 673.5,290.9C674.5,292.6 675.3,294.4 676.2,293.5C677.0,292.6 678.0,289.6 678.8,285.7C679.6,281.7 680.0,272.8 680.9,269.9C681.7,267.1 682.8,268.6 684.0,268.6C685.2,268.6 686.8,268.9 687.9,269.9C689.0,271.0 689.5,273.4 690.6,275.2C691.6,276.9 693.2,277.8 694.5,280.4C695.8,283.0 697.3,287.0 698.4,290.9C699.5,294.8 700.3,299.6 701.0,304.0C701.8,308.3 702.5,316.2 702.9,317.1C703.2,317.9 702.9,310.8 703.2,309.2C703.5,307.5 703.9,308.7 704.5,307.2C705.2,305.7 706.6,302.0 707.2,300.0C707.7,298.0 707.3,297.3 707.9,294.9C708.4,292.6 709.6,289.4 710.5,285.7C711.4,281.9 712.2,277.4 713.1,272.6C714.0,267.8 715.0,262.3 715.7,256.9C716.5,251.4 717.1,244.1 717.7,239.8C718.3,235.6 718.9,231.1 719.4,231.3C719.9,231.6 720.2,237.3 720.7,241.2C721.2,245.0 721.8,251.6 722.3,254.2C722.7,256.9 722.9,257.7 723.3,256.9C723.8,256.0 724.3,251.3 724.9,249.0C725.5,246.7 726.2,244.6 726.9,243.1C727.5,241.6 728.2,241.7 728.8,239.8C729.4,238.0 729.9,234.5 730.4,232.0C730.9,229.5 731.5,224.8 732.1,224.8C732.7,224.8 733.3,229.3 733.8,232.0C734.3,234.7 734.8,240.9 735.4,241.2C735.9,241.4 736.4,236.4 736.9,233.3C737.5,230.2 738.0,226.8 738.6,222.8C739.3,218.9 740.3,210.7 741.0,209.6C741.8,208.5 742.4,214.2 743.1,216.1C743.8,218.1 744.3,221.8 745.2,221.4C746.1,220.9 747.3,216.3 748.4,213.5C749.4,210.7 750.5,206.3 751.5,204.3C752.5,202.4 753.3,200.9 754.1,201.7C754.9,202.6 755.5,207.4 756.2,209.6C756.9,211.8 757.6,215.9 758.3,214.8C759.0,213.7 759.6,205.7 760.1,203.0C760.7,200.4 760.9,198.2 761.4,199.1C762.0,200.0 762.9,204.8 763.5,208.3C764.2,211.8 764.6,220.1 765.4,220.1C766.1,220.1 767.1,212.2 768.0,208.3C768.9,204.3 769.7,196.9 770.6,196.5C771.5,196.1 772.5,202.4 773.2,205.7C774.0,208.9 774.3,214.8 775.1,216.1C775.8,217.4 776.8,214.8 777.7,213.5C778.5,212.2 779.5,210.5 780.3,208.3C781.1,206.1 781.7,201.5 782.4,200.4C783.1,199.3 783.8,199.5 784.5,201.7C785.1,203.9 785.6,210.0 786.3,213.5C787.1,217.0 787.8,220.7 788.9,222.7C790.0,224.6 791.5,224.9 792.9,225.3C794.2,225.7 795.5,224.9 796.8,225.3C798.1,225.7 799.4,227.0 800.7,227.9C802.0,228.8 803.3,230.7 804.6,230.5C805.9,230.3 807.4,229.0 808.6,226.6C809.7,224.2 810.7,219.0 811.7,216.1C812.7,213.3 813.5,210.0 814.3,209.6C815.2,209.1 816.1,212.0 816.9,213.5C817.8,215.0 818.4,218.1 819.6,218.7C820.7,219.4 822.6,216.8 823.7,217.4C824.9,218.1 825.4,220.1 826.4,222.7C827.3,225.3 828.5,231.2 829.5,233.1C830.5,235.1 831.0,235.5 832.1,234.5C833.2,233.4 834.7,229.2 836.1,226.6C837.4,224.0 838.8,222.2 840.0,218.7C841.2,215.3 842.2,208.5 843.1,205.7C844.1,202.8 845.0,201.5 845.7,201.7C846.5,201.9 847.1,204.6 847.8,207.0C848.5,209.4 849.1,215.5 849.9,216.1C850.7,216.8 851.6,212.6 852.5,210.9C853.5,209.1 854.5,206.5 855.7,205.7C856.9,204.8 858.5,204.8 859.6,205.7C860.7,206.5 861.1,209.1 862.2,210.9C863.3,212.6 864.8,214.8 866.2,216.1C867.5,217.4 868.8,218.5 870.1,218.7C871.4,219.0 873.0,218.1 874.0,217.4C875.0,216.8 875.5,214.2 876.1,214.8C876.8,215.5 877.2,221.1 877.9,221.4C878.7,221.6 879.7,216.6 880.6,216.1C881.4,215.7 882.1,217.7 883.2,218.7C884.3,219.8 885.8,221.6 887.1,222.7C888.4,223.8 889.5,224.4 891.0,225.3C892.5,226.2 894.9,227.5 896.0,227.9C897.1,228.3 897.1,227.6 897.8,227.6C898.5,227.7 899.5,227.2 900.2,228.2C900.9,229.2 901.5,232.0 902.1,233.7C902.6,235.4 903.1,238.0 903.6,238.6C904.2,239.2 904.6,238.0 905.1,237.4C905.7,236.8 906.2,235.7 906.9,234.9C907.7,234.1 908.7,233.6 909.4,232.5C910.1,231.4 910.7,229.7 911.2,228.2C911.7,226.7 911.9,224.4 912.4,223.3C912.9,222.3 913.7,222.1 914.3,222.1C914.9,222.1 915.5,222.5 916.1,223.3C916.7,224.1 917.3,225.7 917.9,227.0C918.5,228.3 919.2,231.2 919.8,231.3C920.3,231.4 920.8,229.3 921.2,227.6C921.7,225.9 921.9,222.2 922.4,220.9C923.0,219.6 924.0,220.0 924.6,219.7C925.3,219.4 925.8,219.7 926.5,219.1C927.2,218.5 928.1,217.1 928.9,216.0C929.7,214.9 930.5,213.4 931.4,212.3C932.2,211.3 933.0,210.5 933.8,209.9C934.6,209.3 935.5,208.7 936.2,208.7C937.0,208.7 937.8,209.7 938.1,209.9" fill="none" stroke="#996600" stroke-width="2" stroke-linejoin="round" stroke-linecap="round"/>
<path d="M41.2,347.1C41.6,345.4 42.4,338.5 43.2,336.4C44.0,334.3 44.8,335.1 45.8,334.5C46.8,333.8 48.1,333.4 49.1,332.7C50.1,332.1 50.6,330.6 51.7,330.5C52.8,330.5 54.2,331.4 55.6,332.5C57.1,333.6 58.9,337.0 60.2,337.1C61.5,337.2 62.3,333.7 63.5,333.1C64.7,332.6 66.2,334.1 67.4,333.8C68.6,333.5 69.6,332.1 70.7,331.2C71.8,330.3 73.0,328.2 74.0,328.6C74.9,328.9 75.5,332.4 76.6,333.1C77.7,333.9 79.4,333.5 80.5,333.1C81.6,332.8 82.2,330.9 83.1,331.2C84.0,331.5 84.6,333.1 85.7,335.1C86.8,337.1 88.1,340.7 89.7,343.0C91.2,345.2 93.4,348.2 94.9,348.8C96.4,349.5 97.3,347.4 98.8,346.9C100.4,346.3 102.3,345.6 104.1,345.6C105.8,345.6 107.6,347.0 109.3,346.9C111.0,346.8 113.0,346.4 114.5,344.9C116.1,343.4 117.4,339.1 118.5,337.7C119.6,336.3 120.0,335.8 121.1,336.4C122.2,337.1 123.7,339.9 125.0,341.6C126.3,343.4 127.5,346.5 128.9,346.9C130.4,347.2 132.2,343.8 133.9,343.7C135.5,343.6 137.7,346.9 139.1,346.3C140.5,345.6 141.3,341.0 142.4,339.7C143.5,338.4 144.4,338.0 145.6,338.4C146.8,338.9 148.4,342.1 149.6,342.4C150.8,342.6 152.0,342.4 152.8,339.7C153.7,337.1 154.0,330.6 154.8,326.6C155.6,322.7 156.6,318.3 157.4,316.2C158.2,314.1 159.0,313.8 159.8,314.2C160.5,314.7 161.2,316.3 162.0,318.8C162.8,321.3 163.7,325.6 164.6,329.3C165.5,333.0 166.5,337.6 167.2,341.0C168.0,344.5 168.5,348.2 169.2,350.2C169.8,352.2 170.3,353.0 171.2,352.8C172.0,352.6 173.2,349.8 174.4,348.9C175.6,348.0 177.0,346.9 178.4,347.6C179.7,348.2 181.0,351.3 182.3,352.8C183.6,354.4 184.9,355.4 186.2,356.8C187.5,358.1 189.2,359.4 190.1,360.7C191.1,362.0 191.4,364.2 192.1,364.6C192.8,365.0 193.4,362.2 194.1,363.3C194.7,364.4 195.4,368.5 196.0,371.2C196.7,373.8 197.2,377.0 198.0,379.0C198.8,381.0 199.7,382.7 200.6,382.9C201.5,383.2 202.5,382.3 203.2,380.3C204.0,378.4 204.5,373.3 205.2,371.2C205.8,369.0 206.4,367.7 207.2,367.2C207.9,366.8 208.7,368.3 209.8,368.5C210.9,368.8 212.7,367.9 213.7,368.5C214.7,369.2 215.0,370.1 215.7,372.5C216.3,374.9 216.9,380.8 217.6,382.9C218.4,385.1 219.4,386.6 220.2,385.5C221.1,384.5 221.9,376.0 222.9,376.4C223.8,376.8 225.4,386.0 226.0,388.2C226.6,390.3 226.2,388.1 226.7,389.4C227.1,390.7 228.0,393.5 228.6,395.9C229.3,398.3 229.9,401.9 230.6,403.8C231.2,405.6 231.9,407.2 232.5,407.0C233.2,406.9 233.7,404.0 234.5,403.1C235.3,402.2 236.4,401.8 237.1,401.8C237.9,401.8 238.4,403.9 239.1,403.1C239.7,402.4 240.4,399.5 241.1,397.2C241.7,394.9 242.3,391.8 243.0,389.4C243.8,387.0 244.9,384.1 245.6,382.8C246.4,381.5 246.8,380.9 247.6,381.5C248.4,382.2 249.3,385.1 250.2,386.8C251.1,388.4 252.0,390.5 252.8,391.3C253.7,392.2 254.6,392.5 255.5,392.0C256.3,391.4 257.1,388.7 258.1,388.1C259.0,387.4 260.4,388.4 261.3,388.1C262.3,387.7 263.1,385.7 264.0,386.1C264.8,386.5 265.9,388.8 266.6,390.7C267.2,392.5 267.3,395.3 267.9,397.2C268.4,399.2 269.1,401.5 269.8,402.5C270.6,403.4 271.6,403.2 272.5,403.1C273.3,403.0 274.3,402.5 275.1,401.8C275.8,401.2 276.4,399.0 277.0,399.2C277.7,399.4 278.5,402.1 279.0,403.1C279.6,404.1 279.7,405.3 280.3,405.1C281.0,404.9 282.1,402.7 282.9,401.8C283.8,400.9 284.8,399.7 285.6,399.8C286.3,400.0 286.9,401.3 287.5,402.5C288.2,403.7 288.9,406.2 289.5,407.0C290.0,407.9 290.2,408.4 290.8,407.7C291.3,407.0 292.1,405.1 292.8,403.1C293.4,401.2 294.0,398.4 294.7,395.9C295.5,393.4 296.6,391.1 297.3,388.1C298.1,385.0 298.6,381.1 299.3,377.6C300.0,374.1 300.6,369.3 301.3,367.1C301.9,364.9 302.7,364.1 303.2,364.5C303.8,364.9 304.0,366.7 304.5,369.7C305.1,372.8 305.7,379.2 306.5,382.8C307.3,386.4 308.2,390.9 309.1,391.3C310.0,391.8 311.0,388.2 311.7,385.4C312.5,382.7 312.9,377.2 313.7,375.0C314.5,372.8 315.6,371.8 316.3,372.4C317.1,372.9 317.6,377.6 318.3,378.2C318.9,378.9 319.5,377.9 320.2,376.3C321.0,374.6 322.1,370.3 322.9,368.4C323.6,366.6 324.3,365.6 324.8,365.2C325.3,364.7 325.7,365.7 326.0,365.8C326.3,365.9 326.0,366.1 326.7,365.7C327.3,365.4 329.1,365.0 329.9,363.8C330.8,362.6 331.3,360.3 331.9,358.5C332.4,356.8 332.8,355.9 333.2,353.3C333.6,350.7 333.8,345.7 334.1,342.8C334.4,340.0 334.6,338.5 335.2,336.3C335.7,334.1 336.9,330.2 337.5,329.7C338.2,329.3 338.4,332.8 339.1,333.7C339.8,334.5 340.8,335.1 341.7,335.0C342.6,334.9 343.3,333.2 344.3,333.0C345.3,332.8 346.6,333.7 347.6,333.7C348.6,333.7 349.2,332.6 350.2,333.0C351.2,333.4 352.4,335.5 353.5,336.3C354.6,337.0 356.0,339.3 356.8,337.6C357.5,335.8 357.6,329.4 358.1,325.8C358.5,322.2 358.7,317.7 359.4,316.0C360.0,314.2 361.2,314.6 362.0,315.3C362.8,316.1 363.3,318.6 364.0,320.6C364.6,322.5 365.3,327.3 365.9,327.1C366.6,326.9 367.2,320.8 367.9,319.3C368.5,317.7 369.2,317.0 369.8,318.0C370.5,318.9 370.8,323.8 371.8,325.2C372.8,326.5 374.6,324.7 375.7,325.8C376.8,326.9 377.5,330.2 378.4,331.7C379.2,333.2 380.1,335.0 381.0,335.0C381.8,335.0 382.8,332.6 383.6,331.7C384.4,330.8 384.9,329.4 385.6,329.7C386.2,330.1 386.8,332.4 387.5,333.7C388.3,335.0 389.3,336.6 390.1,337.6C391.0,338.6 392.1,342.6 392.8,339.6C393.4,336.5 393.5,325.3 393.8,319.3C394.1,313.3 394.2,305.9 394.7,303.6C395.2,301.3 396.1,304.4 396.7,305.5C397.2,306.6 397.4,310.0 398.0,310.1C398.5,310.2 399.3,308.6 400.0,306.2C400.6,303.8 401.3,299.6 401.9,295.7C402.6,291.8 403.3,285.2 403.9,282.6C404.4,280.0 404.8,279.1 405.2,280.0C405.6,280.9 406.0,284.6 406.5,287.9C407.0,291.1 407.8,296.3 408.5,299.6C409.1,303.0 409.9,306.5 410.4,308.1C411.0,309.8 411.2,310.7 411.7,309.5C412.3,308.3 413.2,302.5 413.7,300.9C414.2,299.4 414.5,299.3 415.0,300.3C415.6,301.3 416.3,306.4 417.0,306.8C417.6,307.3 418.3,304.0 418.9,302.9C419.5,301.8 420.0,300.1 420.5,300.3C421.0,300.5 421.7,301.9 422.2,304.2C422.7,306.5 423.1,311.3 423.5,314.0C423.9,316.8 424.4,319.3 424.8,320.6C425.2,321.9 425.7,321.7 426.0,321.9C426.3,322.1 426.2,322.0 426.7,321.8C427.1,321.6 428.0,321.0 428.6,320.7C429.3,320.3 430.0,318.4 430.6,320.0C431.1,321.6 431.5,327.0 431.9,330.5C432.3,334.0 432.7,338.3 433.2,340.9C433.7,343.6 434.5,344.2 435.2,346.2C435.8,348.1 436.5,350.9 437.1,352.7C437.8,354.6 438.3,356.4 439.1,357.3C439.9,358.2 440.7,358.2 441.7,358.0C442.7,357.7 444.0,357.3 445.0,356.0C446.0,354.7 446.8,351.6 447.6,350.1C448.4,348.6 448.9,346.2 449.6,346.8C450.2,347.5 451.0,352.1 451.5,354.0C452.1,356.0 452.4,359.9 452.8,358.6C453.3,357.3 453.7,348.9 454.1,346.2C454.6,343.5 454.9,342.0 455.5,342.3C456.0,342.5 456.8,345.3 457.4,347.5C458.1,349.7 458.6,352.9 459.4,355.3C460.1,357.7 461.1,359.7 462.0,361.9C462.9,364.1 463.6,366.7 464.6,368.4C465.6,370.2 467.0,372.8 467.9,372.4C468.8,371.9 469.3,367.9 469.8,365.8C470.4,363.7 470.7,360.1 471.2,359.9C471.6,359.7 471.9,363.1 472.5,364.5C473.0,365.9 473.7,368.1 474.4,368.4C475.2,368.8 476.2,367.1 477.0,366.5C477.9,365.8 478.9,365.9 479.7,364.5C480.4,363.1 481.1,360.6 481.6,358.0C482.2,355.3 482.4,351.0 482.9,348.8C483.5,346.6 484.2,345.5 484.9,344.9C485.6,344.2 486.2,344.0 486.9,344.9C487.5,345.7 488.3,347.5 488.8,350.1C489.4,352.7 489.7,357.3 490.1,360.6C490.6,363.8 490.9,367.3 491.4,369.7C492.0,372.1 492.6,373.7 493.4,375.0C494.2,376.3 495.2,376.5 496.0,377.6C496.9,378.7 497.9,380.3 498.6,381.5C499.4,382.7 499.8,384.8 500.6,384.8C501.4,384.8 502.5,380.8 503.2,381.5C504.0,382.3 504.6,387.2 505.2,389.4C505.7,391.6 506.0,394.8 506.5,394.6C507.0,394.4 507.8,388.6 508.5,388.1C509.1,387.5 509.8,390.0 510.4,391.3C511.1,392.6 511.6,396.0 512.4,395.9C513.2,395.8 514.1,392.0 515.0,390.7C515.9,389.4 516.8,387.8 517.6,388.1C518.5,388.3 519.4,390.7 520.2,392.0C521.1,393.3 521.9,394.8 522.9,395.9C523.8,397.0 525.4,397.9 526.0,398.5C526.6,399.2 526.3,398.4 526.7,399.9C527.0,401.5 527.3,406.0 528.0,407.8C528.6,409.5 529.7,409.5 530.6,410.4C531.5,411.3 532.5,412.4 533.2,413.0C533.9,413.7 534.4,415.6 534.9,414.3C535.4,413.0 535.9,407.7 536.5,405.2C537.0,402.6 537.5,400.0 538.0,399.3C538.6,398.5 539.1,400.1 539.7,400.6C540.4,401.0 541.1,403.1 541.7,401.9C542.4,400.7 543.1,395.2 543.7,393.4C544.3,391.5 544.8,390.2 545.4,390.8C545.9,391.3 546.2,394.4 546.9,396.6C547.6,398.9 548.7,403.2 549.6,404.5C550.4,405.8 551.3,404.3 552.2,404.5C553.0,404.7 553.9,404.2 554.5,405.8C555.2,407.4 555.6,412.5 556.1,414.3C556.6,416.2 556.9,417.7 557.4,416.9C558.0,416.2 558.6,411.3 559.4,409.7C560.1,408.2 561.1,409.2 562.0,407.8C562.9,406.4 563.7,403.6 564.6,401.2C565.5,398.8 566.4,395.1 567.2,393.4C568.1,391.6 569.0,390.7 569.8,390.8C570.7,390.9 571.7,393.8 572.5,394.0C573.2,394.2 573.8,392.6 574.4,392.1C575.1,391.5 575.7,390.5 576.4,390.8C577.0,391.0 577.6,391.8 578.4,393.4C579.1,394.9 580.1,398.0 581.0,399.9C581.8,401.9 582.7,403.1 583.6,405.2C584.5,407.2 585.3,410.2 586.2,412.4C587.1,414.5 588.1,418.8 588.8,418.2C589.6,417.7 590.2,411.6 590.8,409.1C591.3,406.6 591.4,404.1 592.1,403.2C592.8,402.3 593.8,403.6 594.7,403.8C595.6,404.1 596.5,404.6 597.3,404.5C598.2,404.4 599.3,405.0 600.0,403.2C600.6,401.3 600.7,395.0 601.3,393.4C601.8,391.7 602.6,392.8 603.2,393.4C603.9,393.9 604.4,394.7 605.2,396.6C606.0,398.6 606.9,402.4 607.8,405.2C608.7,407.9 609.6,411.0 610.4,413.0C611.3,415.0 612.2,416.3 613.0,416.9C613.9,417.6 614.8,417.5 615.7,416.9C616.5,416.4 617.5,414.5 618.3,413.7C619.0,412.8 619.6,413.6 620.2,411.7C620.9,409.8 621.7,404.7 622.2,402.5C622.7,400.4 622.9,399.4 623.5,398.6C624.1,397.8 625.5,397.9 626.0,398.0C626.5,398.0 626.2,399.2 626.7,399.1C627.1,398.9 628.0,397.8 628.6,397.1C629.3,396.5 629.9,395.0 630.6,395.2C631.2,395.3 632.0,397.0 632.5,397.8C633.1,398.5 633.6,400.2 634.1,399.7C634.6,399.3 635.0,397.7 635.4,395.2C635.8,392.6 636.1,388.4 636.5,384.7C636.9,381.0 637.5,376.5 637.8,372.9C638.1,369.3 638.1,365.8 638.4,362.8C638.8,359.8 639.2,356.7 639.7,355.0C640.3,353.2 641.1,353.9 641.7,352.4C642.4,350.8 643.1,348.9 643.7,345.8C644.2,342.8 644.5,336.5 645.0,334.0C645.4,331.5 645.9,330.1 646.3,330.8C646.7,331.4 647.2,335.2 647.6,338.0C648.0,340.7 648.5,345.4 648.9,347.1C649.3,348.9 649.7,349.1 650.2,348.4C650.8,347.8 651.5,344.6 652.2,343.2C652.8,341.8 653.4,340.6 654.1,339.9C654.9,339.3 656.0,338.5 656.8,339.3C657.5,340.0 658.1,342.5 658.7,344.5C659.4,346.5 659.9,349.1 660.7,351.0C661.4,353.0 662.4,354.5 663.3,356.3C664.2,358.0 665.2,360.2 665.9,361.5C666.7,362.8 667.3,362.2 667.9,364.1C668.4,366.0 668.6,369.5 669.2,372.9C669.7,376.3 670.5,381.8 671.2,384.7C671.8,387.5 672.4,388.9 673.1,389.9C673.9,390.9 674.9,390.7 675.7,390.6C676.6,390.5 677.7,388.1 678.4,389.3C679.0,390.5 679.2,395.0 679.7,397.8C680.1,400.5 680.4,404.6 681.0,405.6C681.5,406.6 682.3,404.1 682.9,403.7C683.6,403.2 684.3,402.5 684.9,403.0C685.5,403.6 686.0,405.8 686.5,406.9C687.0,408.0 687.3,410.2 687.8,409.6C688.3,408.9 689.0,404.6 689.5,403.0C690.0,401.4 690.4,399.1 690.8,399.7C691.2,400.4 691.7,404.2 692.1,406.9C692.5,409.7 693.0,414.4 693.4,416.1C693.8,417.8 694.0,418.7 694.3,417.4C694.7,416.1 695.0,411.3 695.4,408.2C695.8,405.2 696.3,400.8 696.7,399.1C697.1,397.3 697.3,396.9 697.7,397.8C698.1,398.6 698.6,402.5 699.0,404.3C699.5,406.2 700.0,408.7 700.6,408.9C701.2,409.1 701.9,406.9 702.6,405.6C703.2,404.3 703.9,402.0 704.5,401.0C705.2,400.1 706.0,398.3 706.5,399.7C707.0,401.2 707.4,406.4 707.8,409.6C708.2,412.7 708.7,416.5 709.1,418.7C709.6,420.9 709.9,422.4 710.4,422.6C711.0,422.9 711.8,422.0 712.4,420.0C713.0,418.1 713.5,413.7 714.0,410.9C714.4,408.0 714.8,404.5 715.3,403.0C715.8,401.5 716.4,401.7 717.0,401.7C717.6,401.7 718.3,402.9 718.9,403.0C719.6,403.1 720.2,403.2 720.9,402.4C721.5,401.5 722.3,399.4 722.9,397.8C723.4,396.1 723.9,393.6 724.4,392.5C725.0,391.4 725.6,390.8 726.0,391.2C726.4,391.7 726.6,394.4 727.1,395.2C727.6,396.0 728.3,396.1 729.1,395.9C729.9,395.6 730.9,393.2 731.7,393.9C732.5,394.6 733.1,397.5 733.7,399.8C734.2,402.1 734.3,406.2 735.0,407.6C735.6,409.1 736.7,407.8 737.6,408.3C738.5,408.8 739.3,410.4 740.2,410.9C741.1,411.5 742.1,412.3 742.8,411.6C743.6,410.8 744.3,410.0 744.8,406.3C745.3,402.6 745.7,393.4 746.1,389.3C746.5,385.3 747.0,383.1 747.4,382.1C747.8,381.1 748.2,382.4 748.7,383.4C749.2,384.4 749.7,387.1 750.3,388.0C750.8,388.9 751.4,389.0 752.0,388.7C752.6,388.3 753.4,385.9 754.0,386.0C754.5,386.2 754.8,386.6 755.3,389.3C755.7,392.0 756.0,398.7 756.6,402.4C757.1,406.1 757.8,409.3 758.5,411.6C759.3,413.9 760.3,415.2 761.2,416.2C762.0,417.1 762.9,417.5 763.8,417.5C764.6,417.5 765.6,417.1 766.4,416.2C767.2,415.2 767.7,413.9 768.4,411.6C769.0,409.3 769.8,406.1 770.3,402.4C770.8,398.7 771.0,394.8 771.2,389.3C771.5,383.9 771.8,374.9 772.0,369.7C772.2,364.5 772.3,362.4 772.5,357.9C772.8,353.4 773.0,346.2 773.3,342.6C773.6,338.9 773.8,337.5 774.2,336.0C774.7,334.6 775.6,335.0 776.2,334.1C776.9,333.2 777.5,332.7 778.2,330.8C778.8,329.0 779.5,325.1 780.1,323.0C780.8,320.8 781.6,318.7 782.1,317.7C782.6,316.7 783.0,316.2 783.4,317.1C783.8,317.9 784.3,320.2 784.7,323.0C785.2,325.7 785.5,330.4 786.0,333.4C786.6,336.5 787.2,339.5 788.0,341.3C788.8,343.0 789.8,343.7 790.6,343.9C791.4,344.1 792.0,344.8 792.6,342.6C793.2,340.4 793.8,335.4 794.3,330.8C794.8,326.2 795.1,318.8 795.6,315.1C796.1,311.4 796.6,310.0 797.2,308.6C797.7,307.1 798.2,306.2 798.7,306.6C799.2,307.0 799.6,308.2 800.0,311.2C800.4,314.1 800.7,321.0 801.1,324.3C801.4,327.5 801.7,331.2 802.1,330.8C802.5,330.4 803.0,324.0 803.4,321.6C803.9,319.2 804.3,317.4 805.0,316.4C805.7,315.4 806.9,317.1 807.6,315.8C808.3,314.5 808.6,310.7 809.2,308.6C809.7,306.4 810.4,303.8 810.9,302.7C811.4,301.6 811.8,301.3 812.2,302.0C812.6,302.8 813.1,305.3 813.5,307.3C813.9,309.2 814.4,312.1 814.8,313.8C815.2,315.5 815.7,317.3 816.0,317.7C816.3,318.1 816.4,315.7 816.6,316.0C816.8,316.4 816.9,319.3 817.2,319.7C817.5,320.1 818.0,319.9 818.4,318.5C818.8,317.1 819.2,313.0 819.7,311.2C820.1,309.3 820.7,307.5 821.1,307.5C821.6,307.5 821.9,309.7 822.3,311.2C822.8,312.6 823.1,315.8 823.6,316.0C824.0,316.2 824.6,314.0 825.2,312.4C825.7,310.7 826.4,307.7 827.0,306.3C827.6,304.8 828.2,304.4 828.8,303.8C829.4,303.2 830.0,303.4 830.6,302.6C831.3,301.8 832.0,299.9 832.5,298.9C833.0,298.0 833.2,297.2 833.7,297.1C834.2,297.0 834.9,298.0 835.5,298.3C836.1,298.6 836.8,299.7 837.4,298.9C837.9,298.2 838.4,295.2 838.9,294.1C839.5,292.9 839.9,291.8 840.4,292.2C840.9,292.6 841.4,295.0 841.9,296.5C842.4,298.0 843.0,301.4 843.5,301.4C843.9,301.4 844.3,298.7 844.7,296.5C845.1,294.3 845.5,290.0 845.9,288.0C846.3,285.9 846.6,285.4 847.1,284.3C847.6,283.2 848.5,282.3 849.0,281.2C849.5,280.2 849.8,279.7 850.2,278.2C850.6,276.7 851.0,273.5 851.4,272.1C851.8,270.7 852.0,270.3 852.6,269.9C853.2,269.4 854.2,269.4 855.1,269.4C855.9,269.4 856.8,269.4 857.5,269.9C858.2,270.3 858.7,270.9 859.3,272.1C859.9,273.3 860.6,275.1 861.2,277.0C861.8,278.8 862.4,281.1 863.0,283.1C863.6,285.0 864.2,287.1 864.8,288.6C865.4,290.0 866.0,290.9 866.7,291.6C867.3,292.4 867.9,293.0 868.5,293.1C869.1,293.2 869.7,292.8 870.3,292.2C870.9,291.7 871.5,289.9 872.2,289.8C872.8,289.7 873.4,291.1 874.0,291.6C874.6,292.1 875.1,292.7 875.8,292.8C876.5,292.9 877.5,292.5 878.3,292.2C879.0,291.9 879.5,291.3 880.1,291.0C880.7,290.7 881.3,290.2 881.9,290.6C882.5,291.1 883.1,292.7 883.7,293.5C884.4,294.2 884.9,294.7 885.6,295.0C886.3,295.4 887.4,294.9 888.0,295.5C888.6,296.2 888.9,297.0 889.2,298.9C889.6,300.9 889.9,305.3 890.2,307.5C890.6,309.7 890.9,311.9 891.4,312.4C892.0,312.9 892.9,311.6 893.5,310.5C894.2,309.5 894.7,307.4 895.3,306.3C896.0,305.2 896.6,303.9 897.2,303.8C897.7,303.7 898.3,304.7 898.8,305.7C899.3,306.6 899.8,308.6 900.2,309.3C900.7,310.0 900.9,310.4 901.4,309.9C902.0,309.4 902.7,307.7 903.3,306.3C903.9,304.8 904.5,302.6 905.1,301.4C905.7,300.2 906.3,299.2 906.9,299.2C907.6,299.2 908.2,300.0 908.8,301.4C909.4,302.8 910.0,305.6 910.6,307.5C911.2,309.4 911.9,312.0 912.4,313.0C912.9,314.0 913.0,313.7 913.7,313.6C914.3,313.5 915.1,312.7 916.1,312.4C917.1,312.1 918.5,311.9 919.8,311.8C921.0,311.7 922.5,312.7 923.4,311.8C924.3,310.8 924.6,307.7 925.3,306.3C925.9,304.8 926.5,303.9 927.1,303.2C927.7,302.5 928.2,302.0 928.9,302.0C929.6,302.0 930.6,303.2 931.4,303.2C932.1,303.2 932.6,302.8 933.2,302.0C933.8,301.2 934.4,299.4 935.0,298.3C935.6,297.3 936.2,296.5 936.8,295.9C937.5,295.3 938.4,294.9 938.7,294.7" fill="none" stroke="#ff9900" stroke-width="2" stroke-linejoin="round" stroke-linecap="round"/>
<path d="M41.2,347.1C41.7,347.3 42.8,347.8 43.9,348.2C44.9,348.6 46.5,348.8 47.8,349.5C49.1,350.2 50.7,351.2 51.7,352.1C52.7,353.0 52.9,355.0 53.7,354.7C54.4,354.5 55.4,352.1 56.3,350.8C57.2,349.5 57.9,348.2 58.9,346.9C59.9,345.6 60.9,344.7 62.2,343.0C63.5,341.2 65.5,336.8 66.8,336.4C68.1,336.0 68.8,339.8 70.0,340.3C71.2,340.9 72.6,340.7 74.0,339.7C75.3,338.7 76.7,335.0 77.9,334.5C79.1,333.9 80.3,334.1 81.2,336.4C82.0,338.7 82.6,344.3 83.1,348.2C83.7,352.1 83.9,361.7 84.4,360.0C85.0,358.2 85.7,341.9 86.4,337.7C87.0,333.6 87.6,334.0 88.4,335.1C89.1,336.2 90.1,341.4 91.0,344.3C91.8,347.1 92.9,349.9 93.6,352.1C94.2,354.3 94.2,357.6 94.9,357.4C95.6,357.1 96.4,352.6 97.5,350.8C98.6,349.1 100.1,347.3 101.4,346.9C102.8,346.4 104.1,347.8 105.4,348.2C106.7,348.6 107.8,349.5 109.3,349.5C110.8,349.5 112.8,348.0 114.5,348.2C116.3,348.4 117.6,349.6 119.8,350.8C122.0,352.0 125.7,355.2 127.6,355.4C129.6,355.6 130.7,352.8 131.5,352.1C132.4,351.5 131.3,352.1 132.5,351.5C133.8,351.0 136.9,349.6 139.1,348.9C141.3,348.2 143.5,347.6 145.6,347.6C147.8,347.6 150.3,349.1 152.2,348.9C154.0,348.7 155.3,346.3 156.8,346.3C158.2,346.3 159.5,347.6 160.7,348.9C161.9,350.2 162.8,352.8 164.0,354.1C165.2,355.4 166.7,356.1 167.9,356.8C169.1,357.4 170.1,358.9 171.2,358.1C172.2,357.2 173.2,352.9 174.4,351.5C175.6,350.1 177.0,349.7 178.4,349.6C179.7,349.4 180.8,350.1 182.3,350.9C183.8,351.6 186.0,353.8 187.5,354.1C189.0,354.5 190.1,352.2 191.4,352.8C192.8,353.5 194.1,356.8 195.4,358.1C196.7,359.4 198.2,360.7 199.3,360.7C200.4,360.7 200.8,358.9 201.9,358.1C203.0,357.2 204.5,355.9 205.8,355.4C207.2,355.0 208.6,355.9 209.8,355.4C211.0,355.0 212.0,352.6 213.0,352.8C214.1,353.0 215.1,355.8 216.3,356.8C217.5,357.7 218.6,358.1 220.2,358.7C221.9,359.4 224.9,359.9 226.0,360.7C227.1,361.4 226.3,363.6 226.7,363.2C227.0,362.7 227.5,359.6 228.0,358.0C228.5,356.3 229.1,352.9 229.7,353.4C230.2,353.8 230.5,359.0 231.2,360.6C231.9,362.1 233.0,362.4 233.9,362.5C234.7,362.6 235.6,361.2 236.5,361.2C237.3,361.2 237.8,362.8 239.1,362.5C240.4,362.3 242.7,360.5 244.3,359.9C246.0,359.4 247.7,358.7 248.9,359.3C250.1,359.8 250.4,362.6 251.5,363.2C252.6,363.7 254.0,362.6 255.5,362.5C256.9,362.4 258.6,362.2 260.0,362.5C261.4,362.9 262.8,363.4 264.0,364.5C265.2,365.6 266.2,366.9 267.2,369.1C268.2,371.3 269.0,375.4 269.8,377.6C270.7,379.8 271.4,381.2 272.5,382.2C273.6,383.2 275.0,383.3 276.4,383.5C277.8,383.7 279.8,384.5 281.0,383.5C282.2,382.5 282.7,379.1 283.6,377.6C284.5,376.1 285.1,374.4 286.2,374.3C287.3,374.2 288.9,377.3 290.1,376.9C291.3,376.6 292.4,374.3 293.4,372.4C294.4,370.4 295.2,366.9 296.0,365.2C296.9,363.4 297.7,362.3 298.6,361.9C299.6,361.4 300.7,362.3 301.9,362.5C303.1,362.8 304.8,362.2 305.8,363.2C306.9,364.2 307.5,367.2 308.5,368.4C309.4,369.6 310.6,370.5 311.7,370.4C312.8,370.3 314.0,367.0 315.0,367.8C316.0,368.5 316.8,373.3 317.6,375.0C318.5,376.6 319.4,377.4 320.2,377.6C321.1,377.8 321.9,377.8 322.9,376.3C323.8,374.8 325.4,370.1 326.0,368.4C326.6,366.8 326.1,367.3 326.7,366.4C327.2,365.5 328.3,364.6 329.3,363.1C330.3,361.6 331.5,358.9 332.5,357.2C333.6,355.6 334.7,354.6 335.8,353.3C336.9,352.0 338.1,351.1 339.1,349.4C340.1,347.6 340.9,344.1 341.7,342.8C342.5,341.5 343.0,341.3 343.7,341.5C344.3,341.7 344.8,343.5 345.6,344.1C346.5,344.8 347.7,345.2 348.9,345.4C350.1,345.7 351.7,344.6 352.8,345.4C353.9,346.3 354.6,350.7 355.5,350.7C356.3,350.7 357.2,346.5 358.1,345.4C358.9,344.4 359.8,343.7 360.7,344.1C361.6,344.6 362.3,347.0 363.3,348.1C364.3,349.2 365.5,350.9 366.6,350.7C367.7,350.5 368.8,347.2 369.8,346.8C370.9,346.3 372.1,347.3 373.1,348.1C374.1,348.8 374.4,350.5 375.7,351.3C377.0,352.2 379.2,352.5 381.0,353.3C382.7,354.1 384.6,356.2 386.2,355.9C387.8,355.6 389.7,353.1 390.8,351.3C391.9,349.6 392.1,347.1 392.8,345.4C393.4,343.8 394.1,341.5 394.7,341.5C395.4,341.5 396.0,345.9 396.7,345.4C397.3,345.0 398.0,340.4 398.6,338.9C399.3,337.4 400.0,335.6 400.6,336.3C401.3,336.9 401.9,340.9 402.6,342.8C403.2,344.8 403.8,348.1 404.5,348.1C405.3,348.1 406.1,344.6 407.2,342.8C408.2,341.1 410.0,338.2 411.1,337.6C412.2,336.9 412.8,338.2 413.7,338.9C414.6,339.6 415.6,341.1 416.3,341.5C417.1,342.0 417.6,342.2 418.3,341.5C418.9,340.9 419.6,337.2 420.2,337.6C420.9,338.0 421.5,342.0 422.2,344.1C422.9,346.3 423.5,348.9 424.2,350.7C424.8,352.4 425.6,354.0 426.0,354.6C426.4,355.3 426.2,355.0 426.7,354.6C427.1,354.1 427.9,353.1 428.6,352.1C429.4,351.0 430.4,349.8 431.2,348.1C432.1,346.5 433.0,343.9 433.9,342.3C434.7,340.6 435.6,339.2 436.5,338.3C437.3,337.5 438.3,336.6 439.1,337.0C439.9,337.5 440.3,339.6 441.1,340.9C441.8,342.3 442.8,344.4 443.7,344.9C444.5,345.3 445.5,344.7 446.3,343.6C447.1,342.5 447.4,339.3 448.3,338.3C449.1,337.3 450.4,337.6 451.5,337.7C452.6,337.8 453.7,339.1 454.8,339.0C455.9,338.9 457.0,337.8 458.1,337.0C459.2,336.3 460.4,334.2 461.3,334.4C462.3,334.6 463.1,337.9 464.0,338.3C464.8,338.8 465.7,338.1 466.6,337.0C467.4,335.9 468.4,333.1 469.2,331.8C470.0,330.5 470.5,328.5 471.2,329.2C471.8,329.8 472.5,334.4 473.1,335.7C473.8,337.0 474.3,337.1 475.1,337.0C475.8,336.9 476.7,335.1 477.7,335.1C478.7,335.1 479.9,336.1 481.0,337.0C482.1,337.9 483.2,339.3 484.2,340.3C485.3,341.3 486.4,341.8 487.5,342.9C488.6,344.0 489.8,345.6 490.8,346.8C491.8,348.0 492.5,350.1 493.4,350.1C494.3,350.1 495.2,348.3 496.0,346.8C496.9,345.4 497.7,343.2 498.6,341.6C499.6,340.0 500.9,338.7 501.9,337.0C502.9,335.4 503.6,334.1 504.5,331.8C505.5,329.5 506.8,325.6 507.8,323.3C508.8,321.0 509.6,319.5 510.4,318.0C511.3,316.6 512.2,314.8 513.0,314.8C513.9,314.8 514.9,318.0 515.7,318.0C516.4,318.0 517.0,315.4 517.6,314.8C518.3,314.1 518.9,313.3 519.6,314.1C520.2,314.9 520.9,317.4 521.5,319.3C522.2,321.3 522.8,323.9 523.5,325.9C524.3,327.9 525.5,329.8 526.0,331.1C526.5,332.4 526.2,332.3 526.7,333.6C527.1,334.8 527.7,337.7 528.6,338.8C529.5,339.9 530.9,339.2 531.9,340.1C532.9,341.0 533.6,342.5 534.5,344.0C535.4,345.6 536.4,348.5 537.1,349.3C537.9,350.0 538.3,349.2 539.1,348.6C539.9,348.1 540.7,346.5 541.7,346.0C542.7,345.4 544.0,345.6 545.0,345.3C546.0,345.1 546.8,344.0 547.6,344.7C548.4,345.3 548.9,347.4 549.6,349.3C550.2,351.1 550.8,354.3 551.5,355.8C552.3,357.3 553.3,356.8 554.1,358.4C555.0,360.1 555.9,365.0 556.8,365.6C557.6,366.3 558.5,363.6 559.4,362.4C560.2,361.2 561.1,359.4 562.0,358.4C562.9,357.4 563.6,356.9 564.6,356.5C565.6,356.0 566.8,355.8 567.9,355.8C569.0,355.8 570.2,356.0 571.2,356.5C572.1,356.9 572.8,358.1 573.8,358.4C574.8,358.8 576.0,358.5 577.0,358.4C578.1,358.3 579.3,358.1 580.3,357.8C581.3,357.4 582.3,357.3 582.9,356.5C583.6,355.6 583.8,353.4 584.2,352.5C584.7,351.7 585.1,350.8 585.6,351.2C586.1,351.7 586.6,354.3 587.3,355.2C587.9,356.0 588.7,356.6 589.5,356.5C590.3,356.4 591.1,355.2 592.1,354.5C593.1,353.8 594.4,352.3 595.4,352.5C596.4,352.8 597.1,354.5 598.0,355.8C598.9,357.1 600.0,359.4 600.6,360.4C601.3,361.4 601.4,362.2 601.9,361.7C602.5,361.2 603.1,359.2 603.9,357.1C604.6,355.0 605.6,351.3 606.5,349.3C607.4,347.2 608.2,345.6 609.1,344.7C610.0,343.8 610.9,343.6 611.7,344.0C612.6,344.5 613.5,347.4 614.4,347.3C615.2,347.2 616.1,343.6 617.0,343.4C617.8,343.2 618.7,346.0 619.6,346.0C620.5,346.0 621.1,344.0 622.2,343.4C623.3,342.7 625.3,342.3 626.0,342.1C626.7,341.8 626.2,342.4 626.7,342.0C627.1,341.7 627.9,340.4 628.6,339.9C629.4,339.5 630.4,339.4 631.2,339.3C632.1,339.2 633.1,340.0 633.9,339.3C634.6,338.5 635.3,335.6 635.8,334.7C636.4,333.8 636.6,333.5 637.1,334.0C637.7,334.6 638.3,336.8 639.1,338.0C639.9,339.2 640.7,340.1 641.7,341.2C642.7,342.3 644.0,344.0 645.0,344.5C646.0,345.0 646.8,344.9 647.6,344.5C648.4,344.1 648.9,343.4 649.6,341.9C650.2,340.4 650.8,337.5 651.5,335.3C652.3,333.2 653.2,330.3 654.1,328.8C655.1,327.3 656.4,326.7 657.4,326.2C658.4,325.6 659.3,325.0 660.0,325.5C660.8,326.1 661.3,329.6 662.0,329.5C662.6,329.3 663.4,325.9 664.0,324.9C664.5,323.9 665.0,323.0 665.5,323.6C666.1,324.1 666.6,326.9 667.2,328.1C667.8,329.3 668.3,330.4 669.2,330.8C670.1,331.1 671.4,330.3 672.5,330.1C673.6,329.9 674.8,329.8 675.7,329.5C676.7,329.1 677.6,327.8 678.4,328.1C679.1,328.5 679.6,330.7 680.3,331.4C681.1,332.2 682.2,332.6 682.9,332.7C683.7,332.8 684.1,331.6 684.9,332.1C685.7,332.5 686.6,334.9 687.5,335.3C688.4,335.8 689.3,335.2 690.1,334.7C691.0,334.1 692.0,332.7 692.8,332.1C693.5,331.4 694.0,330.7 694.7,330.8C695.5,330.9 696.5,332.5 697.3,332.7C698.2,332.9 699.3,332.9 700.0,332.1C700.6,331.2 700.8,330.0 701.3,327.5C701.7,325.0 702.0,319.9 702.6,317.0C703.1,314.2 703.8,312.4 704.5,310.5C705.3,308.5 706.2,307.0 707.2,305.2C708.1,303.5 709.4,301.7 710.4,300.0C711.4,298.3 712.3,296.6 713.1,294.9C713.9,293.3 714.3,291.1 715.1,290.2C715.8,289.3 716.9,289.9 717.7,289.6C718.5,289.3 719.1,289.8 719.7,288.3C720.2,286.7 720.5,282.7 721.0,280.4C721.4,278.1 721.7,275.7 722.3,274.5C722.8,273.3 723.6,273.4 724.2,273.2C724.9,273.0 725.6,272.9 726.2,273.2C726.9,273.5 727.5,275.0 728.2,275.2C728.8,275.4 729.5,275.0 730.1,274.5C730.8,274.1 731.4,272.5 732.1,272.6C732.8,272.7 733.4,274.1 734.1,275.2C734.7,276.3 735.3,277.6 736.0,279.1C736.8,280.6 737.8,283.0 738.6,284.3C739.5,285.7 740.5,287.2 741.3,287.0C742.0,286.7 742.6,283.9 743.2,283.0C743.9,282.2 744.6,281.3 745.2,281.7C745.7,282.2 746.0,283.9 746.5,285.7C747.0,287.4 747.9,290.7 748.5,292.2C749.0,293.7 749.4,294.0 749.8,294.9C750.1,295.9 750.2,296.7 750.7,298.1C751.2,299.5 751.9,302.0 752.6,303.3C753.4,304.6 754.4,305.1 755.3,305.9C756.1,306.8 757.0,306.6 757.6,308.6C758.2,310.5 758.5,314.7 758.9,317.7C759.4,320.8 759.8,324.7 760.2,326.9C760.7,329.1 761.1,330.2 761.8,330.8C762.5,331.5 763.4,330.8 764.4,330.8C765.4,330.8 766.7,330.6 767.7,330.8C768.7,331.0 769.6,332.6 770.3,332.1C771.0,331.7 771.5,329.1 772.0,328.2C772.6,327.3 773.0,326.8 773.6,326.9C774.2,327.0 774.8,328.1 775.6,328.8C776.3,329.6 777.3,331.0 778.2,331.5C779.0,331.9 780.0,331.7 780.8,331.5C781.6,331.2 782.1,329.8 782.8,330.2C783.4,330.5 784.0,332.6 784.7,333.4C785.5,334.3 786.4,335.2 787.3,335.4C788.3,335.6 789.6,334.6 790.6,334.5C791.6,334.4 792.6,333.6 793.2,334.7C793.9,335.9 794.1,339.6 794.5,341.3C795.0,342.9 795.4,344.6 795.8,344.6C796.3,344.6 796.7,343.1 797.2,341.3C797.6,339.4 798.2,336.3 798.7,333.4C799.3,330.6 799.9,327.1 800.4,324.3C800.9,321.4 801.2,318.3 801.7,316.4C802.3,314.6 803.0,313.8 803.7,313.1C804.4,312.5 805.0,312.3 805.7,312.5C806.3,312.7 806.9,314.0 807.6,314.5C808.4,314.9 809.5,314.6 810.2,315.1C811.0,315.7 811.5,316.2 812.2,317.7C812.9,319.2 813.5,323.0 814.2,324.3C814.8,325.6 815.6,325.8 816.0,325.6C816.4,325.3 816.2,323.3 816.6,322.7C817.0,322.1 817.6,322.3 818.4,322.1C819.3,321.9 820.6,322.0 821.5,321.5C822.4,321.0 823.1,320.1 823.9,319.0C824.7,318.0 825.7,316.3 826.4,315.4C827.1,314.5 827.4,314.1 828.2,313.8C829.0,313.4 830.3,313.6 831.3,313.3C832.2,313.0 833.4,311.7 834.1,312.1C834.8,312.4 834.9,314.5 835.5,315.4C836.2,316.2 837.2,316.7 838.0,317.2C838.8,317.7 839.7,317.6 840.4,318.4C841.1,319.2 841.6,320.7 842.2,322.1C842.9,323.5 843.6,325.3 844.3,327.0C845.0,328.6 845.7,330.3 846.3,331.9C846.9,333.4 847.4,335.2 848.0,336.1C848.5,337.1 849.0,337.6 849.6,337.7C850.2,337.8 850.9,337.4 851.6,336.7C852.4,336.1 853.1,334.5 853.8,333.7C854.6,332.9 855.4,332.3 856.3,332.1C857.2,331.9 858.3,332.3 859.3,332.5C860.4,332.7 861.4,333.1 862.4,333.3C863.4,333.5 864.6,333.5 865.4,333.7C866.3,333.8 866.7,334.1 867.3,334.3C867.8,334.5 868.3,335.3 868.7,334.9C869.2,334.5 869.6,333.1 870.0,331.9C870.3,330.6 870.6,328.6 870.9,327.6C871.3,326.6 871.5,325.8 871.9,325.8C872.3,325.8 872.9,327.1 873.4,327.6C873.9,328.1 874.3,328.7 874.8,328.8C875.3,328.9 875.9,328.5 876.4,328.2C877.0,327.9 877.6,327.4 878.3,327.2C878.9,327.0 879.5,327.1 880.1,327.0C880.7,326.9 881.4,327.3 881.9,326.7C882.5,326.1 882.9,324.3 883.4,323.3C883.8,322.3 884.2,321.1 884.6,320.6C885.0,320.1 885.1,320.0 885.6,320.3C886.0,320.5 886.7,321.5 887.4,322.1C888.1,322.7 889.0,323.3 889.9,323.9C890.7,324.5 891.5,325.2 892.3,325.8C893.1,326.3 893.9,327.0 894.7,327.0C895.5,327.0 896.3,326.4 897.2,325.8C898.1,325.1 899.2,324.3 900.2,323.3C901.2,322.3 902.4,320.7 903.3,319.6C904.2,318.6 905.1,317.7 905.7,317.2C906.4,316.7 906.8,316.2 907.3,316.6C907.8,317.0 908.1,318.3 908.5,319.6C908.9,321.0 909.3,323.9 909.8,324.5C910.2,325.1 910.7,323.8 911.2,323.3C911.7,322.8 912.2,321.7 912.7,321.5C913.2,321.3 913.7,321.7 914.3,322.1C914.8,322.4 915.4,323.2 916.1,323.6C916.8,323.9 917.7,324.2 918.5,324.3C919.4,324.3 920.2,324.4 921.0,323.9C921.8,323.5 922.7,322.5 923.4,321.5C924.1,320.5 924.7,318.7 925.3,317.8C925.8,316.9 926.1,316.0 926.5,316.2C926.9,316.4 927.2,318.0 927.7,319.0C928.2,320.1 928.7,322.0 929.3,322.7C929.9,323.4 930.6,323.0 931.4,323.3C932.1,323.6 933.0,323.9 933.8,324.3C934.6,324.7 935.4,325.1 936.2,325.8C937.1,326.4 938.3,327.6 938.7,327.9" fill="none" stroke="#00cc00" stroke-width="2" stroke-linejoin="round" stroke-linecap="round"/>
<path d="M41.2,347.1C42.3,346.6 46.0,343.7 47.8,343.6C49.5,343.6 50.4,346.1 51.7,346.9C53.0,347.6 53.9,348.1 55.6,348.2C57.4,348.3 60.0,348.0 62.2,347.5C64.4,347.1 66.5,345.6 68.7,345.6C70.9,345.6 73.3,347.1 75.3,347.5C77.2,348.0 79.2,347.0 80.5,348.2C81.8,349.4 82.2,354.5 83.1,354.7C84.0,355.0 84.8,351.1 85.7,349.5C86.7,347.9 87.9,344.5 89.0,344.9C90.1,345.4 91.1,350.7 92.3,352.1C93.5,353.5 94.9,353.8 96.2,353.4C97.5,353.1 98.8,350.3 100.1,350.2C101.4,350.0 102.5,352.9 104.1,352.8C105.6,352.7 107.6,350.4 109.3,349.5C111.0,348.6 112.8,347.6 114.5,347.5C116.3,347.4 117.6,348.7 119.8,348.8C122.0,349.0 125.6,348.4 127.6,348.2C129.6,348.0 130.4,347.8 131.9,347.6C133.4,347.4 134.8,347.6 136.5,346.9C138.1,346.3 140.2,345.1 141.7,343.7C143.2,342.2 144.4,339.8 145.6,338.4C146.8,337.0 147.8,335.7 148.9,335.2C150.0,334.6 151.0,334.8 152.2,335.2C153.4,335.5 154.9,336.1 156.1,337.1C157.3,338.1 158.3,340.0 159.4,341.0C160.5,342.1 161.2,342.9 162.6,343.7C164.1,344.4 165.9,345.1 167.9,345.6C169.8,346.2 172.2,346.5 174.4,346.9C176.6,347.4 178.8,347.8 181.0,348.2C183.2,348.7 185.8,348.6 187.5,349.6C189.3,350.5 190.1,352.9 191.4,354.1C192.8,355.3 194.1,355.9 195.4,356.8C196.7,357.6 198.0,358.9 199.3,359.4C200.6,359.8 201.9,358.9 203.2,359.4C204.5,359.8 205.6,361.1 207.2,362.0C208.7,362.9 210.6,364.2 212.4,364.6C214.1,365.0 215.9,365.2 217.6,364.6C219.4,364.1 221.5,360.7 222.9,361.3C224.3,362.0 225.4,366.8 226.0,368.5C226.6,370.3 226.0,371.4 226.7,371.7C227.3,372.0 228.8,370.1 229.9,370.4C231.0,370.7 232.1,372.9 233.2,373.7C234.3,374.4 235.5,375.2 236.5,375.0C237.5,374.8 238.2,373.1 239.1,372.4C240.0,371.6 240.8,370.0 241.7,370.4C242.6,370.8 243.2,373.9 244.3,375.0C245.4,376.1 246.9,376.5 248.3,376.9C249.6,377.4 250.9,377.9 252.2,377.6C253.5,377.3 255.1,375.5 256.1,375.0C257.1,374.4 257.3,373.9 258.1,374.3C258.8,374.8 259.7,377.3 260.7,377.6C261.7,377.9 262.8,376.2 264.0,376.3C265.2,376.4 266.6,377.0 267.9,378.2C269.2,379.4 270.5,382.2 271.8,383.5C273.1,384.8 274.2,385.6 275.7,386.1C277.3,386.6 279.4,386.4 281.0,386.8C282.5,387.1 283.6,387.2 284.9,388.1C286.2,388.9 287.5,390.6 288.8,392.0C290.1,393.4 291.4,395.8 292.8,396.6C294.1,397.3 295.4,396.8 296.7,396.6C298.0,396.4 299.3,395.5 300.6,395.3C301.9,395.0 303.4,394.5 304.5,395.3C305.6,396.0 306.3,398.8 307.2,399.8C308.0,400.9 308.7,402.0 309.8,401.8C310.9,401.6 312.4,399.2 313.7,398.5C315.0,397.9 316.3,397.6 317.6,397.9C318.9,398.2 320.5,400.6 321.5,400.5C322.6,400.4 323.4,398.6 324.2,397.2C324.9,395.8 325.6,392.9 326.0,392.0C326.4,391.1 326.0,392.6 326.7,391.9C327.3,391.2 328.8,389.2 329.9,388.0C331.0,386.8 332.1,386.1 333.2,384.7C334.3,383.3 335.5,380.6 336.5,379.5C337.5,378.4 338.1,378.2 339.1,378.2C340.1,378.2 341.3,379.7 342.4,379.5C343.5,379.3 344.4,377.3 345.6,376.9C346.8,376.4 348.3,376.9 349.6,376.9C350.9,376.9 352.2,377.0 353.5,376.9C354.8,376.7 356.3,377.1 357.4,376.2C358.5,375.3 359.3,372.0 360.0,371.6C360.8,371.3 361.1,374.0 362.0,374.2C362.9,374.5 364.1,373.6 365.3,372.9C366.5,372.3 368.0,370.6 369.2,370.3C370.4,370.0 371.4,370.4 372.5,371.0C373.6,371.5 374.8,373.9 375.7,373.6C376.7,373.3 377.5,369.7 378.4,369.0C379.2,368.4 379.9,370.1 381.0,369.7C382.1,369.2 383.6,366.5 384.9,366.4C386.2,366.3 387.7,368.4 388.8,369.0C389.9,369.7 390.7,370.5 391.4,370.3C392.2,370.1 392.9,369.2 393.4,367.7C394.0,366.2 394.1,362.0 394.7,361.2C395.4,360.3 396.4,362.9 397.3,362.5C398.3,362.0 399.4,359.8 400.6,358.5C401.8,357.2 403.4,355.2 404.5,354.6C405.6,354.1 406.3,355.7 407.2,355.3C408.0,354.8 408.9,353.2 409.8,352.0C410.6,350.8 411.5,348.6 412.4,348.1C413.3,347.5 414.1,348.2 415.0,348.7C415.9,349.3 416.8,351.0 417.6,351.3C418.5,351.7 419.4,349.7 420.2,350.7C421.1,351.7 421.9,356.6 422.9,357.2C423.8,357.9 425.4,355.1 426.0,354.6C426.6,354.2 426.2,354.2 426.7,354.6C427.1,354.9 427.9,355.6 428.6,356.6C429.4,357.7 430.5,359.6 431.2,360.6C432.0,361.6 432.5,362.6 433.2,362.5C433.9,362.4 434.5,360.5 435.2,359.9C435.8,359.4 436.4,358.7 437.1,359.3C437.9,359.8 438.9,361.9 439.7,363.2C440.6,364.5 441.5,367.0 442.4,367.1C443.2,367.2 444.1,365.3 445.0,363.8C445.9,362.4 446.7,359.8 447.6,358.6C448.5,357.4 449.3,357.1 450.2,356.6C451.1,356.2 452.0,356.3 452.8,356.0C453.7,355.7 454.6,354.5 455.5,354.7C456.3,354.9 457.1,357.1 458.1,357.3C459.0,357.5 460.2,355.8 461.3,356.0C462.4,356.2 463.5,358.3 464.6,358.6C465.7,358.9 466.8,358.5 467.9,358.0C469.0,357.4 470.2,355.4 471.2,355.3C472.1,355.2 472.9,357.4 473.8,357.3C474.6,357.2 475.5,355.8 476.4,354.7C477.3,353.6 478.1,351.6 479.0,350.8C479.9,349.9 480.8,349.6 481.6,349.5C482.5,349.3 483.4,349.5 484.2,350.1C485.1,350.8 485.9,352.3 486.9,353.4C487.8,354.5 489.0,355.7 490.1,356.6C491.2,357.6 492.4,359.0 493.4,359.3C494.4,359.5 495.3,359.3 496.0,358.0C496.8,356.6 497.4,353.2 498.0,351.4C498.5,349.7 498.4,348.1 499.3,347.5C500.2,346.8 501.9,347.5 503.2,347.5C504.5,347.5 506.1,347.4 507.2,347.5C508.2,347.6 508.9,347.5 509.8,348.1C510.6,348.8 511.4,351.1 512.4,351.4C513.4,351.7 514.6,350.0 515.7,350.1C516.8,350.2 517.8,351.2 518.9,352.1C520.0,352.9 521.2,353.7 522.2,355.3C523.2,357.0 524.2,360.4 524.8,361.9C525.5,363.4 525.7,364.4 526.0,364.5C526.3,364.6 526.2,362.3 526.7,362.4C527.1,362.4 527.9,364.5 528.6,365.0C529.4,365.4 530.4,364.8 531.2,365.0C532.1,365.2 533.0,365.5 533.9,366.3C534.7,367.0 535.4,368.5 536.5,369.6C537.6,370.6 539.1,372.0 540.4,372.8C541.7,373.7 543.1,374.6 544.3,374.8C545.5,375.0 546.5,373.6 547.6,374.1C548.7,374.7 550.1,377.0 550.9,378.1C551.6,379.1 551.6,379.2 552.2,380.3C552.7,381.4 553.4,383.5 554.1,384.9C554.9,386.3 555.9,388.7 556.8,388.8C557.6,388.9 558.5,386.2 559.4,385.5C560.2,384.9 561.1,384.5 562.0,384.9C562.9,385.2 563.7,386.9 564.6,387.5C565.5,388.0 566.2,388.6 567.2,388.1C568.2,387.7 569.4,385.7 570.5,384.9C571.6,384.0 572.7,383.7 573.8,382.9C574.9,382.1 576.2,381.1 577.0,380.3C577.9,379.5 578.4,378.2 579.0,378.1C579.7,377.9 580.0,378.7 581.0,379.4C582.0,380.0 583.6,381.0 584.9,382.0C586.2,383.0 587.5,384.8 588.8,385.3C590.1,385.7 591.4,384.9 592.8,384.6C594.1,384.3 595.4,383.7 596.7,383.3C598.0,382.9 599.3,382.4 600.6,382.0C601.9,381.6 603.3,381.8 604.5,380.7C605.7,379.6 606.7,376.1 607.8,375.4C608.9,374.8 609.9,376.9 611.1,376.8C612.3,376.6 613.9,375.3 615.0,374.8C616.1,374.2 616.8,373.6 617.6,373.5C618.5,373.4 619.4,374.5 620.2,374.1C621.1,373.8 621.9,372.1 622.9,371.5C623.8,371.0 625.4,371.0 626.0,370.9C626.6,370.7 626.1,370.7 626.7,370.8C627.2,370.9 628.3,370.7 629.3,371.3C630.3,372.0 631.6,374.7 632.5,374.6C633.5,374.5 634.2,372.6 635.2,370.7C636.1,368.7 637.6,364.5 638.4,362.8C639.3,361.2 639.6,361.5 640.4,360.9C641.2,360.2 642.1,360.0 643.0,358.9C643.9,357.8 644.8,355.3 645.6,354.3C646.5,353.3 647.4,353.9 648.3,353.0C649.1,352.1 650.0,350.5 650.9,349.1C651.7,347.7 652.6,345.7 653.5,344.5C654.4,343.3 655.2,341.9 656.1,341.9C657.0,341.9 657.8,343.5 658.7,344.5C659.6,345.5 660.2,347.0 661.3,347.8C662.4,348.5 664.3,348.3 665.3,349.1C666.2,349.8 666.7,350.7 667.2,352.4C667.8,354.0 668.0,357.7 668.5,358.9C669.1,360.1 669.7,359.6 670.5,359.6C671.3,359.6 672.2,358.4 673.1,358.9C674.0,359.4 674.9,361.3 675.7,362.8C676.6,364.4 677.3,367.1 678.4,368.3C679.4,369.6 681.0,369.9 682.3,370.3C683.6,370.7 684.9,370.7 686.2,370.9C687.5,371.2 689.0,370.8 690.1,371.6C691.2,372.4 691.9,374.0 692.8,375.5C693.6,377.1 694.6,379.5 695.4,380.8C696.1,382.1 696.7,383.4 697.3,383.4C698.0,383.4 698.5,381.5 699.3,380.8C700.1,380.0 701.0,379.2 701.9,378.8C702.8,378.4 703.7,377.6 704.5,378.1C705.4,378.7 706.3,381.8 707.2,382.1C708.0,382.3 708.9,380.3 709.8,379.5C710.6,378.6 711.5,377.9 712.4,376.8C713.3,375.7 714.1,374.0 715.0,372.9C715.9,371.8 716.5,371.4 717.6,370.3C718.7,369.2 720.2,367.7 721.5,366.4C722.9,365.1 725.1,362.5 726.0,362.4C726.9,362.3 726.7,364.2 727.1,365.8C727.5,367.3 727.9,371.4 728.4,371.6C729.0,371.9 729.7,368.0 730.4,367.1C731.1,366.1 731.7,365.7 732.4,365.8C733.0,365.9 733.6,366.7 734.3,367.7C735.1,368.7 736.2,370.8 736.9,371.6C737.7,372.5 738.3,373.5 738.9,373.0C739.6,372.4 740.1,369.4 740.9,368.4C741.6,367.4 742.5,367.4 743.5,367.1C744.5,366.7 745.9,367.1 746.8,366.4C747.6,365.8 748.1,364.6 748.7,363.1C749.4,361.7 749.9,359.0 750.7,357.9C751.4,356.8 752.4,356.7 753.3,356.6C754.2,356.5 755.2,356.6 755.9,357.3C756.7,357.9 757.2,359.1 757.9,360.5C758.5,361.9 759.2,364.0 759.8,365.8C760.5,367.5 761.2,369.7 761.8,371.0C762.5,372.3 763.1,373.6 763.8,373.6C764.4,373.6 765.1,372.7 765.7,371.0C766.4,369.2 767.0,365.7 767.7,363.1C768.4,360.6 769.1,357.5 769.7,355.9C770.2,354.4 770.4,354.2 771.0,354.0C771.5,353.8 772.3,354.9 772.9,354.6C773.6,354.4 774.2,353.1 774.9,352.7C775.6,352.2 776.3,352.1 776.9,352.0C777.4,352.0 777.6,352.1 778.2,352.4C778.7,352.7 779.4,353.8 780.1,353.7C780.9,353.6 781.7,352.2 782.8,351.8C783.8,351.3 785.6,352.2 786.7,351.1C787.8,350.0 788.5,347.3 789.3,345.2C790.1,343.1 790.6,340.0 791.3,338.7C791.9,337.4 792.5,337.7 793.2,337.4C794.0,337.0 795.0,336.7 795.8,336.7C796.7,336.7 797.7,336.3 798.5,337.1C799.2,337.9 799.8,339.8 800.4,341.3C801.0,342.7 801.5,345.2 802.1,345.9C802.8,346.5 803.5,345.8 804.4,345.2C805.2,344.7 806.1,343.9 807.0,342.6C807.8,341.3 808.7,339.5 809.6,337.4C810.5,335.2 811.4,331.7 812.2,329.5C813.0,327.3 813.5,324.9 814.2,324.3C814.8,323.6 815.6,325.1 816.0,325.6C816.4,326.0 816.4,326.1 816.6,327.0C816.8,327.8 816.7,329.3 817.0,330.6C817.2,332.0 817.8,334.8 818.2,334.9C818.6,335.0 819.0,332.4 819.4,331.2C819.8,330.1 820.2,328.5 820.6,327.9C821.1,327.4 821.6,327.6 822.1,328.2C822.6,328.7 823.0,330.0 823.6,331.2C824.2,332.5 825.0,334.4 825.8,335.5C826.5,336.6 827.4,337.3 828.2,337.7C829.0,338.1 829.9,338.3 830.6,338.0C831.4,337.6 831.9,336.4 832.5,335.5C833.0,334.7 833.5,333.4 834.1,332.8C834.7,332.3 835.5,332.6 836.1,332.1C836.8,331.6 837.4,331.1 838.0,330.0C838.6,329.0 839.1,326.8 839.8,325.8C840.5,324.7 841.4,324.4 842.2,323.9C843.1,323.4 844.0,322.9 844.7,322.7C845.4,322.5 845.8,322.3 846.5,322.5C847.2,322.7 847.9,323.4 848.7,323.9C849.5,324.5 850.6,325.1 851.4,325.8C852.2,326.4 852.9,326.7 853.6,327.6C854.2,328.5 854.8,330.8 855.3,331.2C855.9,331.7 856.4,330.7 856.9,330.0C857.4,329.3 858.0,327.5 858.5,327.0C858.9,326.4 859.3,326.2 859.7,326.7C860.1,327.2 860.7,328.7 861.2,330.0C861.7,331.4 862.0,333.5 862.6,334.9C863.2,336.3 864.1,337.6 864.8,338.6C865.6,339.6 866.6,340.5 867.3,341.0C868.0,341.6 868.5,342.2 869.1,341.9C869.7,341.6 870.3,339.9 870.9,339.2C871.5,338.4 872.1,338.0 872.8,337.3C873.5,336.7 874.4,336.2 875.2,335.5C876.0,334.8 877.0,333.5 877.6,333.1C878.3,332.6 878.4,332.4 878.9,332.8C879.4,333.2 880.0,334.8 880.7,335.5C881.4,336.3 882.3,337.0 883.1,337.3C884.0,337.7 884.8,337.8 885.6,337.7C886.4,337.7 887.1,336.8 887.8,337.0C888.5,337.1 889.1,338.2 889.9,338.6C890.6,338.9 891.5,339.4 892.3,339.2C893.1,339.0 894.1,338.5 894.7,337.3C895.4,336.2 895.9,333.5 896.3,332.5C896.8,331.4 897.0,331.2 897.5,331.2C898.1,331.2 898.9,332.1 899.6,332.5C900.4,332.9 901.2,333.4 902.1,333.7C902.9,334.0 903.6,334.2 904.5,334.3C905.4,334.4 906.6,333.4 907.3,334.1C908.0,334.7 908.3,336.7 908.8,338.0C909.3,339.2 909.8,341.2 910.2,341.4C910.7,341.6 911.0,340.5 911.5,339.2C911.9,337.9 912.5,335.2 913.0,333.7C913.6,332.2 914.3,331.0 914.9,330.4C915.5,329.8 916.1,329.7 916.7,330.0C917.3,330.4 917.8,331.7 918.3,332.5C918.8,333.2 919.3,334.5 919.8,334.5C920.2,334.5 920.6,333.2 921.2,332.5C921.8,331.8 922.6,331.0 923.4,330.4C924.2,329.8 924.9,329.3 925.9,328.8C926.8,328.3 927.9,327.8 928.9,327.6C929.9,327.4 930.9,327.4 932.0,327.6C933.0,327.8 933.9,328.3 935.0,328.8C936.1,329.3 938.1,330.3 938.7,330.6" fill="none" stroke="#ff0000" stroke-width="2" stroke-linejoin="round" stroke-linecap="round"/>
<path d="M41.2,347.1C41.6,346.4 42.5,343.2 43.2,343.0C43.9,342.7 44.4,344.7 45.2,345.6C45.9,346.4 46.9,348.0 47.8,348.2C48.7,348.4 49.3,346.8 50.4,346.9C51.5,347.0 52.9,348.3 54.3,348.8C55.7,349.4 57.6,348.7 58.9,350.2C60.2,351.6 61.1,355.9 62.2,357.4C63.3,358.8 64.5,357.9 65.5,358.7C66.4,359.4 67.3,360.2 68.1,361.9C68.9,363.7 69.5,369.0 70.3,369.1C71.1,369.2 71.8,364.8 72.6,362.6C73.5,360.4 74.2,358.2 75.3,356.0C76.4,353.9 78.2,351.5 79.2,349.5C80.2,347.5 80.7,348.8 81.2,344.3C81.6,339.7 81.7,325.9 82.1,322.0C82.4,318.1 82.6,319.8 83.1,320.7C83.6,321.6 84.3,325.7 85.1,327.3C85.8,328.8 86.8,328.6 87.7,329.9C88.6,331.2 89.6,332.9 90.3,335.1C91.1,337.3 91.7,341.2 92.3,343.0C92.8,344.7 92.5,345.4 93.6,345.6C94.7,345.8 97.1,344.3 98.8,344.3C100.6,344.3 102.6,344.7 104.1,345.6C105.5,346.4 106.2,349.3 107.3,349.5C108.4,349.7 109.4,347.3 110.6,346.9C111.8,346.4 113.0,346.3 114.5,346.9C116.1,347.4 118.0,349.1 119.8,350.2C121.5,351.2 123.7,353.5 125.0,353.4C126.3,353.3 126.5,349.9 127.6,349.5C128.7,349.1 130.7,349.9 131.5,350.8C132.4,351.7 131.3,354.5 132.5,354.8C133.8,355.1 137.3,352.3 139.1,352.8C140.8,353.4 141.9,358.1 143.0,358.1C144.1,358.1 144.7,354.4 145.6,352.8C146.6,351.3 147.8,349.1 148.9,348.9C150.0,348.7 151.0,350.2 152.2,351.5C153.4,352.8 154.8,355.7 156.1,356.8C157.4,357.8 158.7,356.8 160.0,358.1C161.3,359.4 163.0,363.2 164.0,364.6C164.9,366.0 164.8,366.8 165.9,366.6C167.0,366.4 169.1,364.3 170.5,363.3C171.9,362.3 173.1,361.6 174.4,360.7C175.7,359.8 177.0,358.0 178.4,358.1C179.7,358.2 181.0,360.5 182.3,361.3C183.6,362.2 185.1,361.7 186.2,363.3C187.3,364.9 188.0,368.6 188.8,371.2C189.7,373.7 190.4,376.4 191.4,378.4C192.5,380.3 193.8,381.3 195.4,382.9C196.9,384.6 199.1,388.2 200.6,388.2C202.1,388.2 203.2,384.8 204.5,382.9C205.8,381.1 207.2,378.2 208.5,377.0C209.8,375.8 211.1,375.2 212.4,375.7C213.7,376.3 215.2,379.0 216.3,380.3C217.4,381.6 217.8,383.4 218.9,383.6C220.0,383.8 221.7,381.1 222.9,381.6C224.0,382.2 225.4,385.9 226.0,386.9C226.6,387.8 226.0,387.4 226.7,387.4C227.3,387.4 228.8,386.5 229.9,386.8C231.0,387.0 232.1,388.7 233.2,388.7C234.3,388.7 235.5,387.0 236.5,386.8C237.5,386.5 238.1,388.0 239.1,387.4C240.1,386.9 241.3,384.7 242.4,383.5C243.5,382.3 244.5,380.4 245.6,380.2C246.7,380.0 247.8,380.9 248.9,382.2C250.0,383.5 251.1,386.6 252.2,388.1C253.3,389.5 254.4,390.9 255.5,390.7C256.5,390.5 257.7,387.7 258.7,386.8C259.7,385.8 260.5,384.7 261.3,384.8C262.2,384.9 263.0,386.3 264.0,387.4C264.9,388.5 266.2,391.4 267.2,391.3C268.2,391.2 269.0,387.7 269.8,386.8C270.7,385.8 271.5,385.4 272.5,385.4C273.4,385.4 274.5,386.1 275.7,386.8C276.9,387.4 278.1,388.6 279.7,389.4C281.2,390.1 283.2,390.4 284.9,391.3C286.6,392.3 288.6,395.3 290.1,395.3C291.7,395.3 292.9,392.8 294.1,391.3C295.3,389.9 296.2,388.4 297.3,386.8C298.4,385.1 299.6,382.8 300.6,381.5C301.6,380.2 302.4,378.7 303.2,378.9C304.1,379.1 304.8,381.3 305.8,382.8C306.9,384.4 308.6,387.0 309.8,388.1C311.0,389.2 312.0,389.8 313.0,389.4C314.1,388.9 315.1,386.3 316.3,385.4C317.5,384.6 319.0,384.9 320.2,384.1C321.4,383.4 322.6,381.6 323.5,380.9C324.5,380.1 325.5,379.6 326.0,379.6C326.5,379.5 326.0,380.3 326.7,380.5C327.3,380.7 328.9,381.0 329.9,380.8C330.9,380.6 331.9,380.6 332.5,379.5C333.2,378.4 333.0,375.4 333.9,374.2C334.7,373.0 336.7,372.5 337.8,372.3C338.9,372.1 339.5,373.2 340.4,372.9C341.3,372.7 342.1,370.8 343.0,371.0C343.9,371.2 344.7,373.9 345.6,374.2C346.6,374.6 347.8,373.4 348.9,372.9C350.0,372.5 351.0,372.1 352.2,371.6C353.4,371.2 355.0,371.4 356.1,370.3C357.2,369.2 358.0,366.7 358.7,365.1C359.5,363.4 359.8,361.3 360.7,360.5C361.6,359.7 363.0,360.2 364.0,360.5C364.9,360.8 365.5,362.5 366.6,362.5C367.7,362.5 369.2,360.6 370.5,360.5C371.8,360.4 373.1,361.6 374.4,361.8C375.7,362.0 377.0,361.7 378.4,361.8C379.7,361.9 381.0,362.7 382.3,362.5C383.6,362.2 384.9,360.4 386.2,360.5C387.5,360.6 389.0,362.4 390.1,363.1C391.2,363.9 392.1,365.6 392.8,365.1C393.4,364.5 393.5,361.6 394.1,359.8C394.6,358.1 395.4,355.0 396.0,354.6C396.7,354.2 397.1,357.2 398.0,357.2C398.9,357.2 400.2,355.6 401.3,354.6C402.4,353.6 403.7,351.3 404.5,351.3C405.4,351.3 405.8,352.8 406.5,354.6C407.2,356.5 407.7,360.5 408.5,362.5C409.2,364.4 410.2,366.3 411.1,366.4C412.0,366.5 412.7,363.2 413.7,363.1C414.7,363.0 416.0,365.8 417.0,365.7C418.0,365.6 418.7,363.6 419.6,362.5C420.5,361.4 421.1,359.8 422.2,359.2C423.3,358.5 425.3,358.7 426.0,358.5C426.7,358.4 426.3,358.9 426.7,358.5C427.0,358.1 427.4,356.5 428.0,356.0C428.5,355.5 429.4,354.8 429.9,355.3C430.5,355.9 430.8,357.6 431.2,359.3C431.7,360.9 431.8,363.5 432.5,365.2C433.3,366.8 434.7,367.9 435.8,369.1C436.9,370.3 438.0,371.6 439.1,372.4C440.2,373.1 441.3,373.6 442.4,373.7C443.5,373.8 444.7,372.4 445.6,373.0C446.6,373.7 447.4,376.2 448.3,377.6C449.1,379.0 450.1,380.6 450.9,381.5C451.6,382.4 452.1,383.4 452.8,382.8C453.6,382.3 454.6,379.2 455.5,378.2C456.3,377.3 457.3,376.4 458.1,376.9C458.8,377.5 459.4,380.1 460.0,381.5C460.7,382.9 461.2,385.3 462.0,385.4C462.8,385.6 463.6,382.2 464.6,382.2C465.6,382.2 466.8,385.1 467.9,385.4C469.0,385.8 470.1,384.8 471.2,384.1C472.2,383.5 473.3,381.3 474.4,381.5C475.5,381.7 476.7,385.0 477.7,385.4C478.7,385.9 479.4,385.4 480.3,384.1C481.2,382.8 482.2,379.6 482.9,377.6C483.7,375.6 484.2,373.8 484.9,372.4C485.6,370.9 486.2,368.9 486.9,369.1C487.5,369.3 488.2,372.0 488.8,373.7C489.5,375.3 490.0,377.7 490.8,378.9C491.6,380.1 492.6,381.2 493.4,380.9C494.2,380.5 494.8,377.9 495.4,376.9C495.9,376.0 496.1,374.6 496.7,375.0C497.2,375.3 498.0,378.1 498.6,378.9C499.3,379.7 499.8,380.0 500.6,379.6C501.4,379.1 502.5,376.1 503.2,376.3C504.0,376.5 504.4,379.4 505.2,380.9C506.0,382.3 506.8,383.8 507.8,384.8C508.8,385.8 509.9,386.2 511.1,386.8C512.3,387.3 513.7,388.0 515.0,388.1C516.3,388.2 517.7,387.0 518.9,387.4C520.1,387.8 521.0,389.8 522.2,390.7C523.4,391.6 525.3,392.3 526.0,392.6C526.7,393.0 526.0,393.3 526.7,392.7C527.3,392.2 528.7,390.1 529.9,389.5C531.1,388.8 532.5,389.2 533.9,388.8C535.2,388.4 536.7,386.9 537.8,386.8C538.9,386.7 539.5,388.6 540.4,388.1C541.3,387.7 542.3,385.3 543.0,384.2C543.8,383.1 544.4,381.1 545.0,381.6C545.5,382.1 545.7,385.1 546.3,387.5C546.8,389.9 547.6,393.7 548.3,396.0C548.9,398.3 549.5,400.2 550.2,401.2C551.0,402.2 552.0,402.3 552.8,401.9C553.7,401.4 554.7,400.0 555.5,398.6C556.2,397.2 556.8,395.1 557.4,393.4C558.1,391.6 558.6,389.3 559.4,388.1C560.1,386.9 561.1,386.3 562.0,386.2C562.9,386.1 563.7,386.9 564.6,387.5C565.5,388.0 566.4,389.8 567.2,389.5C568.1,389.1 569.0,387.3 569.8,385.5C570.7,383.8 571.7,379.6 572.5,379.0C573.2,378.3 573.6,381.4 574.4,381.6C575.3,381.8 576.7,380.8 577.7,380.0C578.7,379.2 579.6,377.6 580.3,376.8C581.1,375.9 581.6,374.4 582.3,374.8C582.9,375.2 583.4,378.2 584.2,379.4C585.1,380.6 586.5,382.2 587.5,382.0C588.5,381.8 589.3,379.3 590.1,378.1C591.0,376.9 591.7,375.6 592.8,374.8C593.8,374.0 595.4,374.2 596.7,373.5C598.0,372.7 599.3,370.6 600.6,370.2C601.9,369.8 603.2,370.9 604.5,370.9C605.8,370.9 607.2,370.8 608.5,370.2C609.8,369.7 611.3,368.0 612.4,367.6C613.5,367.2 614.1,367.2 615.0,367.6C615.9,368.0 616.8,370.8 617.6,370.2C618.5,369.7 619.4,365.4 620.2,364.3C621.1,363.2 621.9,363.6 622.9,363.7C623.8,363.8 625.4,364.8 626.0,365.0C626.6,365.2 626.2,364.4 626.7,364.9C627.1,365.4 627.9,366.9 628.6,368.1C629.4,369.2 630.4,371.1 631.2,372.0C632.1,372.9 633.0,374.0 633.9,373.3C634.7,372.6 635.6,370.1 636.5,368.1C637.3,366.0 638.1,362.2 639.1,360.9C640.1,359.6 641.4,360.9 642.4,360.2C643.3,359.6 644.1,357.5 645.0,356.9C645.9,356.4 646.7,356.6 647.6,356.9C648.5,357.3 649.5,357.5 650.2,358.9C651.0,360.3 651.4,363.4 652.2,365.4C652.9,367.5 653.9,370.2 654.8,371.3C655.7,372.4 656.4,372.3 657.4,372.0C658.4,371.7 659.8,369.5 660.7,369.4C661.6,369.3 662.0,369.6 662.6,371.3C663.3,373.1 664.1,378.2 664.6,379.8C665.1,381.5 665.3,382.7 665.7,381.2C666.0,379.6 666.4,374.0 666.8,370.7C667.3,367.4 667.8,362.4 668.1,361.5C668.5,360.6 668.9,362.6 669.2,365.4C669.5,368.3 669.8,375.1 670.1,378.5C670.4,382.0 670.8,384.2 671.2,386.0C671.5,387.8 671.7,388.7 672.5,389.3C673.2,389.8 674.9,390.0 675.7,389.3C676.6,388.5 677.2,385.2 677.7,384.7C678.2,384.1 678.6,384.7 679.0,386.0C679.4,387.3 679.8,390.7 680.3,392.5C680.9,394.4 681.6,396.0 682.3,397.1C682.9,398.2 683.6,399.2 684.2,399.1C684.9,399.0 685.6,397.8 686.2,396.5C686.9,395.2 687.5,392.5 688.2,391.2C688.8,389.9 689.5,388.7 690.1,388.6C690.8,388.5 691.4,389.9 692.1,390.6C692.8,391.2 693.5,392.6 694.1,392.5C694.6,392.4 694.9,391.1 695.4,389.9C695.8,388.7 696.3,386.2 696.7,385.3C697.1,384.5 697.4,383.7 697.7,384.7C698.1,385.7 698.2,389.0 698.6,391.2C699.1,393.4 699.8,396.1 700.6,397.8C701.4,399.4 702.4,400.6 703.2,401.0C704.1,401.5 705.1,400.9 705.8,400.4C706.6,399.8 707.2,398.6 707.8,397.8C708.5,396.9 709.2,395.4 709.8,395.2C710.3,394.9 710.6,394.9 711.1,396.5C711.5,398.0 711.8,401.9 712.4,404.3C712.9,406.7 713.7,409.1 714.4,410.9C715.0,412.6 715.7,413.5 716.3,414.8C717.0,416.1 717.7,417.4 718.3,418.7C718.8,420.0 719.2,421.1 719.6,422.6C720.0,424.2 720.3,426.4 720.9,427.9C721.4,429.4 722.0,430.9 722.9,431.8C723.7,432.7 725.4,432.4 726.0,433.1C726.6,433.8 726.4,434.5 726.7,436.0C727.1,437.6 727.4,441.1 728.0,442.6C728.7,444.1 729.7,444.4 730.4,445.2C731.1,446.0 731.7,445.4 732.4,447.2C733.0,448.9 733.7,452.6 734.3,455.7C735.0,458.7 735.7,463.2 736.3,465.5C736.9,467.8 737.3,468.9 738.0,469.4C738.6,469.9 739.4,468.7 740.2,468.5C741.0,468.3 741.9,468.1 742.8,468.1C743.8,468.2 745.2,468.0 746.1,468.8C747.0,469.5 747.5,470.3 748.1,472.7C748.7,475.1 749.3,480.3 749.8,483.2C750.2,486.0 750.5,488.0 750.7,489.7C750.9,491.4 750.8,493.5 751.1,493.2C751.4,493.0 752.1,489.8 752.6,488.0C753.2,486.3 753.7,483.2 754.2,482.8C754.8,482.3 755.4,484.1 755.9,485.4C756.5,486.7 757.0,490.5 757.6,490.6C758.3,490.7 759.3,486.9 759.8,486.0C760.4,485.2 760.7,484.4 761.2,485.4C761.6,486.4 762.0,489.3 762.5,491.9C762.9,494.6 763.2,498.9 763.8,501.1C764.3,503.3 765.1,503.3 765.7,505.0C766.4,506.8 767.1,509.3 767.7,511.6C768.3,513.9 769.0,517.2 769.4,518.8C769.8,520.3 769.9,521.7 770.3,520.7C770.7,519.8 771.3,516.2 771.6,512.9C772.0,509.6 772.2,503.7 772.5,501.1C772.9,498.5 773.2,497.6 773.6,497.2C774.0,496.7 774.4,497.0 774.9,498.5C775.4,500.0 775.9,503.9 776.5,506.3C777.0,508.7 777.6,511.5 778.2,512.9C778.8,514.2 779.4,514.3 780.1,514.5C780.9,514.6 782.0,514.3 782.8,513.5C783.5,512.7 784.1,511.9 784.7,509.6C785.3,507.3 785.9,503.4 786.4,499.8C786.9,496.2 787.3,490.8 787.7,488.0C788.2,485.2 788.6,483.2 789.0,482.8C789.5,482.3 789.9,483.6 790.3,485.4C790.8,487.1 791.4,491.4 791.9,493.2C792.4,495.1 792.6,495.8 793.2,496.5C793.9,497.3 794.9,497.3 795.8,497.8C796.8,498.4 798.1,499.2 799.1,499.8C800.1,500.3 801.1,501.3 801.7,501.1C802.4,500.9 802.6,499.7 803.0,498.5C803.5,497.3 803.7,494.9 804.4,493.9C805.0,492.9 806.0,492.9 807.0,492.6C808.0,492.3 809.3,491.9 810.2,491.9C811.2,491.9 812.1,492.0 812.9,492.6C813.6,493.1 814.3,495.0 814.8,495.2C815.3,495.4 815.7,494.3 816.0,493.9C816.3,493.5 816.4,493.6 816.6,493.0C816.8,492.3 816.8,490.6 817.2,489.9C817.6,489.2 818.4,488.8 819.1,488.7C819.7,488.7 820.3,489.1 820.9,489.7C821.5,490.3 822.1,491.5 822.7,492.1C823.3,492.7 823.9,493.5 824.5,493.4C825.2,493.2 825.8,492.4 826.4,491.4C827.0,490.4 827.7,488.8 828.2,487.5C828.8,486.2 829.2,484.5 829.7,483.8C830.1,483.1 830.4,482.9 830.9,483.2C831.4,483.5 832.0,484.9 832.5,485.7C833.0,486.5 833.6,488.4 834.1,488.1C834.5,487.8 834.8,486.0 835.3,483.8C835.7,481.7 836.3,477.5 836.8,475.3C837.2,473.1 837.7,471.5 838.2,470.4C838.7,469.3 839.2,468.7 839.8,468.6C840.4,468.5 840.9,469.3 841.6,469.8C842.3,470.3 843.2,471.1 844.1,471.6C845.0,472.1 846.1,472.7 847.1,472.8C848.1,473.0 849.4,472.9 850.2,472.6C851.0,472.3 851.4,472.0 852.0,471.0C852.6,470.0 853.1,468.4 853.6,466.7C854.1,465.1 854.4,462.5 854.8,461.2C855.2,460.0 855.6,459.2 856.0,459.4C856.5,459.6 857.0,461.6 857.5,462.5C858.0,463.4 858.5,464.9 859.0,464.9C859.5,464.9 860.0,463.4 860.6,462.5C861.1,461.6 861.7,460.4 862.4,459.4C863.1,458.4 864.1,457.4 864.8,456.4C865.6,455.3 866.4,454.1 867.0,453.3C867.7,452.5 868.2,451.7 868.7,451.5C869.3,451.3 869.8,451.8 870.3,452.1C870.9,452.4 871.3,453.4 871.9,453.3C872.5,453.3 873.3,452.3 874.0,451.9C874.6,451.4 875.2,450.8 875.8,450.9C876.4,450.9 876.9,451.6 877.6,452.1C878.4,452.6 879.4,453.5 880.1,453.9C880.8,454.3 881.3,454.7 881.9,454.5C882.5,454.3 883.1,453.7 883.7,452.7C884.4,451.7 885.0,450.1 885.6,448.4C886.2,446.8 886.8,444.8 887.4,442.9C888.0,441.1 888.7,438.8 889.2,437.4C889.8,436.1 890.0,434.8 890.5,434.6C891.0,434.3 891.6,435.6 892.3,436.0C893.0,436.5 893.8,437.1 894.7,437.3C895.7,437.4 896.9,437.4 897.8,437.0C898.7,436.6 899.3,435.3 900.2,434.8C901.1,434.3 902.5,434.4 903.3,434.2C904.1,434.0 904.5,433.7 905.1,433.3C905.7,433.0 906.3,432.2 906.9,432.1C907.6,432.1 908.2,432.2 908.8,433.0C909.4,433.7 910.0,435.2 910.6,436.6C911.2,438.1 911.7,440.6 912.4,441.5C913.1,442.4 914.1,442.1 914.9,441.9C915.7,441.7 916.5,440.9 917.3,440.3C918.1,439.7 918.9,438.2 919.5,438.2C920.1,438.2 920.4,439.7 921.0,440.3C921.5,440.9 922.0,441.6 922.8,441.9C923.6,442.2 924.8,442.2 925.9,441.9C926.9,441.6 927.9,441.0 928.9,440.3C929.9,439.6 930.9,438.7 932.0,437.9C933.0,437.0 934.1,436.4 935.0,435.4C935.9,434.4 936.8,432.6 937.5,431.8C938.1,430.9 938.5,430.7 938.7,430.5" fill="none" stroke="#6600ff" stroke-width="2" stroke-linejoin="round" stroke-linecap="round"/>
<path d="M41.2,347.1C41.7,348.2 43.1,352.8 43.9,353.4C44.6,354.0 44.9,351.7 45.8,350.8C46.7,349.9 48.1,348.4 49.1,348.2C50.1,348.0 50.8,349.9 51.7,349.5C52.6,349.1 53.2,346.0 54.3,345.6C55.4,345.1 56.7,346.1 58.3,346.9C59.8,347.6 62.1,349.9 63.5,350.2C64.9,350.4 65.8,349.7 66.8,348.2C67.7,346.7 68.5,341.6 69.4,341.0C70.2,340.3 71.0,343.8 72.0,344.3C73.0,344.7 74.1,343.8 75.3,343.6C76.5,343.4 78.2,341.8 79.2,343.0C80.2,344.2 80.7,343.2 81.2,350.8C81.6,358.4 80.9,382.4 82.1,388.8C83.3,395.1 86.9,392.9 88.4,388.8C89.8,384.6 90.1,369.4 91.0,363.9C91.8,358.4 92.8,357.6 93.6,356.0C94.4,354.5 94.9,354.1 95.6,354.7C96.2,355.4 97.0,357.9 97.5,360.0C98.1,362.0 98.0,365.9 98.8,367.2C99.7,368.5 101.8,369.2 102.8,367.8C103.7,366.4 104.0,360.4 104.7,358.7C105.5,356.9 106.6,357.1 107.3,357.4C108.1,357.6 108.5,359.9 109.3,360.0C110.1,360.1 111.2,356.7 111.9,358.0C112.7,359.3 113.3,364.4 113.9,367.8C114.4,371.2 114.8,379.0 115.2,378.3C115.6,377.6 116.1,368.7 116.5,363.9C116.9,359.1 117.0,351.8 117.8,349.5C118.6,347.2 119.9,350.2 121.1,350.2C122.3,350.2 123.9,350.0 125.0,349.5C126.1,349.0 126.5,348.0 127.6,346.9C128.7,345.8 130.8,343.5 131.5,343.0C132.3,342.4 131.3,343.5 131.9,343.7C132.5,343.8 134.0,343.0 135.2,343.7C136.4,344.3 138.0,345.8 139.1,347.6C140.2,349.3 140.8,354.1 141.7,354.1C142.6,354.1 143.6,349.6 144.3,347.6C145.1,345.6 145.6,342.4 146.3,342.4C146.9,342.4 147.5,346.1 148.3,347.6C149.0,349.1 149.9,350.6 150.9,351.5C151.9,352.4 153.2,351.3 154.1,352.8C155.1,354.4 156.0,361.1 156.8,360.7C157.5,360.2 158.0,353.3 158.7,350.2C159.5,347.2 160.6,344.3 161.3,342.4C162.1,340.4 162.6,338.2 163.3,338.4C164.0,338.6 164.5,342.4 165.3,343.7C166.0,345.0 166.6,345.6 167.9,346.3C169.2,346.9 171.5,347.9 173.1,347.6C174.8,347.3 176.4,344.5 177.7,344.3C179.0,344.1 179.8,346.7 181.0,346.3C182.2,345.8 183.8,341.5 184.9,341.7C186.0,341.9 186.4,346.4 187.5,347.6C188.6,348.8 190.1,349.1 191.4,348.9C192.8,348.7 194.1,347.4 195.4,346.3C196.7,345.2 197.9,344.1 199.3,342.4C200.7,340.6 202.7,336.2 203.9,335.8C205.1,335.4 205.5,339.7 206.5,339.7C207.5,339.7 208.7,337.2 209.8,335.8C210.9,334.4 212.0,330.8 213.0,331.2C214.1,331.7 215.2,337.4 216.3,338.4C217.4,339.4 218.5,336.9 219.6,337.1C220.7,337.3 221.8,339.2 222.9,339.7C223.9,340.3 225.4,340.3 226.0,340.4C226.6,340.5 226.2,341.4 226.7,340.4C227.1,339.4 227.9,335.8 228.6,334.4C229.4,333.0 230.4,332.1 231.2,331.8C232.1,331.5 233.0,331.8 233.9,332.4C234.7,333.1 235.7,334.5 236.5,335.7C237.2,336.9 237.8,337.9 238.4,339.6C239.1,341.4 239.8,344.2 240.4,346.2C241.0,348.1 241.4,351.4 242.0,351.4C242.5,351.4 242.8,347.2 243.7,346.2C244.5,345.2 246.0,345.6 246.9,345.5C247.9,345.4 248.8,346.1 249.6,345.5C250.3,345.0 250.9,342.0 251.5,342.3C252.2,342.5 252.7,345.7 253.5,346.8C254.3,347.9 255.1,348.9 256.1,348.8C257.1,348.7 258.4,346.5 259.4,346.2C260.4,345.9 261.2,346.3 262.0,346.8C262.8,347.4 263.2,349.7 264.0,349.5C264.7,349.2 265.5,346.1 266.6,345.5C267.7,345.0 269.2,346.3 270.5,346.2C271.8,346.1 273.1,344.7 274.4,344.9C275.7,345.1 276.9,346.5 278.4,347.5C279.8,348.5 281.6,350.7 282.9,350.8C284.2,350.9 285.0,349.0 286.2,348.1C287.4,347.3 288.8,345.5 290.1,345.5C291.4,345.5 292.9,347.7 294.1,348.1C295.3,348.6 296.2,347.6 297.3,348.1C298.4,348.7 299.6,350.2 300.6,351.4C301.6,352.6 302.6,356.0 303.2,355.3C303.9,354.7 304.1,349.8 304.5,347.5C305.0,345.2 305.3,343.3 305.8,341.6C306.4,339.9 307.2,337.7 307.8,337.0C308.5,336.4 309.0,336.9 309.8,337.7C310.5,338.4 311.5,340.5 312.4,341.6C313.3,342.7 314.1,344.3 315.0,344.2C315.9,344.1 316.5,341.5 317.6,340.9C318.7,340.4 320.2,340.4 321.5,340.9C322.9,341.5 325.1,343.7 326.0,344.2C326.9,344.7 326.2,343.5 326.7,344.1C327.1,344.8 327.9,346.1 328.6,348.1C329.4,350.0 330.4,353.4 331.2,355.9C332.1,358.4 333.0,361.0 333.9,363.1C334.7,365.2 335.7,367.4 336.5,368.4C337.2,369.3 337.9,370.2 338.4,369.0C339.0,367.8 339.2,362.6 339.7,361.2C340.3,359.7 341.1,360.2 341.7,360.5C342.4,360.8 343.0,363.0 343.7,363.1C344.3,363.2 344.8,363.2 345.6,361.2C346.5,359.1 347.9,353.0 348.9,350.7C349.9,348.4 350.7,348.1 351.5,347.4C352.4,346.8 353.3,346.2 354.1,346.8C355.0,347.3 356.1,348.3 356.8,350.7C357.4,353.1 357.6,358.6 358.1,361.2C358.6,363.7 359.0,365.7 359.8,365.7C360.5,365.7 361.7,363.2 362.6,361.2C363.6,359.1 364.4,355.6 365.3,353.3C366.1,351.0 366.9,348.5 367.9,347.4C368.9,346.3 370.2,346.6 371.2,346.8C372.1,346.9 372.9,346.5 373.8,348.1C374.6,349.6 375.6,353.8 376.4,355.9C377.2,358.0 377.6,359.8 378.4,360.5C379.1,361.2 380.2,360.0 381.0,359.8C381.7,359.7 382.2,359.2 382.9,359.8C383.7,360.5 384.8,363.6 385.6,363.8C386.3,364.0 386.8,362.7 387.5,361.2C388.3,359.6 389.3,356.6 390.1,354.6C391.0,352.6 391.9,349.4 392.8,349.4C393.6,349.4 394.6,353.3 395.4,354.6C396.1,355.9 396.7,356.8 397.3,357.2C398.0,357.7 398.5,357.9 399.3,357.2C400.1,356.6 401.0,354.8 401.9,353.3C402.8,351.8 403.7,350.0 404.5,348.1C405.4,346.1 406.3,343.5 407.2,341.5C408.0,339.6 408.9,337.6 409.8,336.3C410.6,335.0 411.3,334.3 412.4,333.7C413.5,333.0 415.1,332.9 416.3,332.4C417.5,331.8 418.7,331.7 419.6,330.4C420.5,329.1 421.0,326.8 421.5,324.5C422.1,322.2 422.4,318.2 422.9,316.6C423.3,315.1 423.6,315.4 424.2,315.3C424.7,315.2 425.6,315.8 426.0,316.0C426.4,316.2 426.1,316.3 426.7,316.7C427.2,317.2 428.3,319.1 429.3,318.7C430.3,318.3 431.5,315.9 432.5,314.1C433.6,312.4 434.8,308.7 435.8,308.2C436.8,307.8 437.5,310.7 438.4,311.5C439.4,312.3 440.7,313.9 441.7,312.8C442.7,311.7 443.6,306.6 444.3,304.9C445.1,303.3 445.5,303.2 446.3,303.0C447.1,302.8 447.9,303.7 448.9,303.6C449.9,303.5 451.1,302.0 452.2,302.3C453.3,302.7 454.5,305.9 455.5,305.6C456.4,305.3 457.2,301.8 458.1,300.4C458.9,298.9 459.8,297.7 460.7,297.1C461.6,296.4 462.5,295.9 463.3,296.4C464.1,297.0 464.5,300.5 465.3,300.4C466.0,300.3 467.1,295.9 467.9,295.8C468.6,295.7 469.2,298.4 469.8,299.7C470.5,301.0 471.0,303.9 471.8,303.6C472.6,303.4 473.6,300.3 474.4,298.4C475.3,296.5 476.3,293.6 477.0,292.5C477.8,291.4 478.2,291.3 479.0,291.9C479.8,292.4 480.9,294.1 481.6,295.8C482.4,297.4 482.8,300.7 483.6,301.7C484.4,302.7 485.3,302.2 486.2,301.7C487.1,301.1 488.1,300.5 488.8,298.4C489.6,296.3 490.2,292.1 490.8,289.2C491.3,286.4 491.7,283.0 492.1,281.4C492.5,279.8 492.9,279.0 493.4,279.4C494.0,279.9 494.7,282.2 495.4,284.0C496.0,285.9 496.6,288.6 497.3,290.5C498.1,292.5 499.1,294.4 500.0,295.8C500.8,297.2 501.7,298.8 502.6,299.1C503.4,299.3 504.1,297.5 505.2,297.1C506.3,296.7 507.9,296.9 509.1,296.4C510.3,296.0 511.2,295.7 512.4,294.5C513.6,293.3 515.1,291.1 516.3,289.2C517.5,287.4 518.6,285.4 519.6,283.4C520.6,281.3 521.1,278.7 522.2,276.8C523.3,275.0 525.2,273.2 526.0,272.2C526.8,271.3 526.1,272.5 526.9,271.3C527.8,270.0 529.6,266.5 530.9,264.7C532.2,263.0 533.5,262.1 534.8,260.8C536.1,259.5 537.6,258.4 538.7,256.9C539.8,255.3 540.5,252.3 541.3,251.6C542.2,251.0 543.1,253.2 544.0,252.9C544.8,252.7 545.7,250.1 546.6,250.3C547.4,250.5 548.1,253.6 549.2,254.2C550.3,254.9 552.0,256.0 553.1,254.2C554.2,252.5 555.0,246.4 555.7,243.8C556.5,241.2 557.0,238.5 557.8,238.5C558.6,238.5 559.6,242.0 560.5,243.8C561.3,245.5 562.0,247.9 563.1,249.0C564.1,250.1 565.6,249.9 566.7,250.3C567.9,250.8 568.9,251.2 570.1,251.6C571.4,252.1 573.0,252.5 574.1,252.9C575.2,253.4 575.6,255.5 576.7,254.2C577.8,252.9 579.3,246.8 580.6,245.1C581.9,243.3 583.4,244.2 584.5,243.8C585.6,243.3 586.4,243.4 587.2,242.5C587.9,241.5 588.5,237.4 589.2,238.0C590.0,238.7 590.7,244.3 591.9,246.4C593.0,248.4 594.7,248.7 596.3,250.3C597.9,252.0 600.1,256.3 601.5,256.3C603.0,256.3 603.9,250.9 605.0,250.3C606.0,249.7 606.7,252.9 608.1,252.9C609.5,252.9 611.5,251.4 613.3,250.3C615.2,249.2 617.3,245.8 619.1,246.4C620.8,247.0 622.4,253.3 623.8,253.7C625.2,254.2 626.4,251.1 627.7,249.0C629.0,246.9 630.5,242.9 631.7,241.2C632.8,239.4 633.7,238.3 634.8,238.5C635.9,238.8 637.0,240.5 638.2,242.5C639.4,244.4 640.9,247.9 642.1,250.3C643.3,252.7 644.4,254.9 645.3,256.9C646.1,258.8 646.7,262.5 647.4,262.1C648.1,261.7 648.4,255.3 649.5,254.2C650.5,253.2 652.5,254.9 653.9,255.5C655.3,256.2 656.5,258.8 657.8,258.2C659.1,257.5 660.5,252.7 661.8,251.6C663.1,250.5 664.4,252.3 665.7,251.6C667.0,251.0 668.1,249.0 669.6,247.7C671.1,246.4 673.3,243.6 674.8,243.8C676.4,244.0 677.5,248.4 678.8,249.0C680.1,249.7 681.3,248.9 682.7,247.7C684.1,246.5 686.0,241.7 687.2,241.7C688.3,241.7 688.8,247.1 689.8,247.7C690.8,248.3 692.2,243.3 693.2,245.1C694.2,246.8 694.7,255.5 695.8,258.2C696.9,260.8 698.4,260.6 699.7,260.8C701.0,261.0 702.6,259.8 703.6,259.5C704.7,259.2 705.3,259.0 706.0,259.0C706.7,259.0 707.2,258.1 707.9,259.5C708.5,260.9 709.1,264.5 709.8,267.3C710.6,270.2 711.5,273.4 712.5,276.5C713.4,279.5 714.6,282.8 715.7,285.7C716.8,288.5 718.1,291.7 719.0,293.5C719.9,295.4 720.5,295.4 721.2,296.8C721.9,298.2 722.5,299.9 723.2,302.0C723.9,304.1 724.5,307.9 725.2,309.2C725.8,310.5 726.5,310.0 727.1,309.9C727.8,309.8 728.5,307.9 729.1,308.6C729.6,309.2 729.9,312.1 730.4,313.8C730.9,315.5 731.7,319.1 732.4,319.0C733.0,318.9 733.7,315.3 734.3,313.1C735.0,311.0 735.6,307.8 736.3,305.9C736.9,304.1 737.5,302.9 738.3,302.0C739.0,301.1 740.0,301.5 740.9,300.7C741.7,299.9 742.6,298.4 743.5,297.4C744.4,296.5 745.3,295.3 746.1,294.8C746.9,294.4 747.8,294.1 748.5,294.8C749.1,295.6 749.6,297.1 750.0,299.4C750.5,301.7 750.9,305.8 751.3,308.6C751.8,311.3 752.4,314.0 752.9,315.8C753.4,317.5 753.8,319.8 754.2,319.0C754.7,318.3 755.1,313.8 755.5,311.2C756.0,308.6 756.3,304.9 756.8,303.3C757.3,301.8 757.8,302.3 758.5,302.0C759.3,301.7 760.4,302.2 761.2,301.4C761.9,300.5 762.3,297.8 762.9,296.8C763.4,295.8 764.0,295.5 764.7,295.5C765.3,295.5 766.2,295.5 766.8,296.8C767.4,298.1 767.9,300.3 768.4,303.3C768.8,306.4 769.2,310.7 769.7,315.1C770.1,319.5 770.6,324.7 771.0,329.5C771.4,334.3 771.7,339.6 772.0,343.9C772.4,348.2 772.8,352.5 773.1,355.3C773.3,358.1 773.2,357.7 773.6,360.5C774.0,363.4 774.8,368.6 775.6,372.3C776.3,376.0 777.4,379.7 778.2,382.8C778.9,385.8 779.6,387.4 780.1,390.6C780.7,393.9 781.0,399.4 781.4,402.4C781.9,405.5 782.4,407.8 782.8,409.0C783.1,410.2 783.4,410.7 783.8,409.6C784.2,408.5 784.6,406.7 785.1,402.4C785.6,398.2 786.2,389.5 786.7,384.1C787.2,378.6 787.8,373.8 788.3,369.7C788.7,365.5 789.2,362.0 789.6,359.2C790.0,356.4 790.2,355.0 790.6,353.1C791.0,351.2 791.7,348.3 792.2,347.8C792.7,347.4 793.1,349.1 793.5,350.4C793.8,351.8 794.0,353.8 794.3,355.7C794.5,357.6 794.8,359.5 795.1,361.8C795.3,364.2 795.5,366.8 795.8,369.7C796.2,372.5 796.7,376.9 797.2,378.8C797.6,380.8 798.2,381.9 798.7,381.5C799.2,381.0 799.6,378.4 800.0,376.2C800.4,374.0 800.7,370.2 801.1,368.4C801.5,366.5 802.0,365.2 802.4,365.1C802.8,365.0 803.3,366.5 803.7,367.7C804.1,368.9 804.4,370.9 805.0,372.3C805.7,373.7 806.9,374.3 807.6,376.2C808.4,378.2 808.9,381.0 809.6,384.1C810.2,387.1 810.9,391.1 811.5,394.6C812.2,398.0 813.0,402.4 813.5,405.0C814.1,407.6 814.4,409.8 814.8,410.3C815.2,410.7 815.7,408.8 816.0,407.6C816.3,406.4 816.3,404.9 816.5,403.1C816.7,401.3 816.7,399.0 817.0,397.0C817.3,394.9 817.8,391.1 818.2,390.9C818.6,390.7 819.0,393.6 819.4,395.7C819.8,397.9 820.2,402.3 820.6,403.7C821.0,405.1 821.5,405.0 821.9,404.3C822.3,403.6 822.6,400.7 823.1,399.4C823.5,398.1 824.0,397.0 824.5,396.4C825.1,395.7 825.8,395.9 826.4,395.5C826.9,395.1 827.5,395.0 828.0,393.9C828.5,392.8 828.9,390.2 829.4,389.0C829.9,387.9 830.4,387.1 830.9,387.2C831.4,387.3 832.0,388.3 832.5,389.6C833.0,391.0 833.5,393.6 834.1,395.1C834.6,396.7 835.2,397.5 835.8,398.8C836.3,400.1 836.8,400.7 837.4,403.1C837.9,405.4 838.4,410.6 838.9,412.8C839.5,415.1 839.9,415.7 840.4,416.5C841.0,417.3 841.7,417.2 842.2,417.7C842.8,418.2 843.3,418.5 843.8,419.6C844.3,420.6 844.8,422.9 845.3,423.8C845.8,424.7 846.2,424.9 846.8,425.0C847.3,425.2 848.1,424.8 848.7,424.8C849.3,424.8 849.7,423.9 850.2,424.8C850.6,425.7 851.0,427.4 851.4,429.9C851.8,432.4 852.1,437.8 852.4,439.7C852.7,441.6 852.8,441.7 853.2,441.5C853.6,441.3 854.2,439.6 854.8,438.5C855.4,437.4 856.1,435.8 856.9,434.8C857.6,433.8 858.5,433.4 859.3,432.4C860.1,431.4 861.1,430.2 861.8,428.7C862.5,427.2 863.1,425.2 863.6,423.2C864.1,421.2 864.4,418.3 864.8,416.5C865.3,414.7 865.7,413.1 866.3,412.2C866.9,411.3 867.7,411.2 868.5,411.0C869.3,410.8 870.1,410.8 870.9,411.0C871.7,411.2 872.6,411.7 873.4,412.2C874.2,412.8 875.0,413.8 875.8,414.3C876.6,414.8 877.5,414.7 878.3,415.3C879.0,415.8 879.5,416.8 880.1,417.7C880.7,418.6 881.2,420.9 881.7,420.8C882.1,420.7 882.4,418.2 882.9,417.1C883.3,416.0 883.8,414.5 884.4,414.1C884.9,413.7 885.6,414.3 886.2,414.7C886.8,415.0 887.5,416.6 888.0,416.3C888.5,415.9 888.8,414.4 889.2,412.8C889.6,411.2 890.0,408.0 890.5,406.7C891.0,405.5 891.6,405.7 892.3,405.5C893.0,405.3 894.1,405.2 894.7,405.8C895.4,406.3 895.9,407.4 896.3,408.6C896.8,409.7 897.0,412.3 897.5,412.8C898.1,413.3 899.0,411.9 899.6,411.6C900.3,411.4 900.8,411.1 901.4,411.4C902.1,411.7 902.7,412.5 903.3,413.4C903.9,414.4 904.5,416.0 905.1,417.1C905.7,418.2 906.4,420.3 906.9,420.2C907.5,420.1 907.8,418.1 908.2,416.5C908.6,414.9 909.0,411.7 909.4,410.4C909.8,409.1 910.1,408.4 910.6,408.6C911.1,408.8 911.7,410.9 912.2,411.6C912.7,412.4 913.0,413.1 913.7,413.1C914.3,413.1 915.3,412.4 916.1,411.6C916.9,410.9 917.8,409.1 918.5,408.6C919.3,408.0 919.8,407.8 920.4,408.2C920.9,408.6 921.4,409.6 922.0,411.0C922.5,412.4 922.9,414.4 923.4,416.5C923.9,418.6 924.4,421.9 924.9,423.8C925.4,425.8 925.8,427.0 926.5,428.1C927.1,429.2 928.1,429.9 928.9,430.5C929.7,431.1 930.6,431.2 931.4,431.8C932.1,432.3 932.6,432.8 933.2,433.6C933.8,434.4 934.4,436.2 935.0,436.6C935.6,437.0 936.2,436.4 936.8,436.0C937.5,435.6 938.4,434.5 938.7,434.2" fill="none" stroke="#ff33cc" stroke-width="2" stroke-linejoin="round" stroke-linecap="round"/>
<path d="M41.2,347.1C41.7,346.0 43.1,340.6 43.9,340.3C44.6,340.1 45.1,343.9 45.8,345.6C46.6,347.2 47.6,350.5 48.4,350.2C49.3,349.8 50.1,345.0 51.1,343.6C52.0,342.2 53.0,342.2 54.3,341.6C55.6,341.1 57.3,340.9 58.9,340.6C60.5,340.3 62.8,340.6 64.1,340.1C65.5,339.6 65.8,338.2 66.8,337.7C67.7,337.2 68.9,336.8 70.0,337.1C71.1,337.3 72.2,339.5 73.3,339.0C74.4,338.6 75.5,335.4 76.6,334.5C77.7,333.5 79.0,331.5 79.8,333.1C80.7,334.8 81.0,338.4 81.5,344.3C82.1,350.2 82.4,366.3 82.9,368.5C83.3,370.7 83.3,359.9 84.2,357.4C85.1,354.8 87.1,355.6 88.4,353.4C89.6,351.2 90.6,346.6 91.6,344.3C92.6,342.0 93.5,340.7 94.2,339.7C95.0,338.7 95.4,337.8 96.2,338.4C97.0,338.9 98.0,342.1 98.8,343.0C99.7,343.8 100.4,344.3 101.4,343.6C102.5,343.0 104.4,339.6 105.4,339.0C106.4,338.5 106.5,339.5 107.3,340.3C108.2,341.2 109.4,343.7 110.6,344.3C111.8,344.8 113.4,344.9 114.5,343.6C115.6,342.3 116.3,337.8 117.2,336.4C118.0,335.0 118.8,334.9 119.8,335.1C120.8,335.3 122.0,337.5 123.0,337.7C124.1,337.9 125.1,336.6 126.3,336.4C127.5,336.2 129.0,335.6 130.2,336.4C131.5,337.2 132.7,339.2 133.9,341.0C135.0,342.9 136.0,345.4 137.1,347.6C138.2,349.8 139.4,352.4 140.4,354.1C141.4,355.9 142.1,359.4 143.0,358.1C143.9,356.8 145.0,348.9 145.6,346.3C146.3,343.7 146.3,342.1 146.9,342.4C147.6,342.6 148.5,345.6 149.6,347.6C150.7,349.6 152.3,352.4 153.5,354.1C154.7,355.9 155.8,359.4 156.8,358.1C157.7,356.8 158.6,350.4 159.4,346.3C160.1,342.1 160.8,335.8 161.3,333.2C161.9,330.6 162.3,329.7 162.9,330.6C163.6,331.4 164.4,336.2 165.3,338.4C166.1,340.6 167.1,342.7 167.9,343.7C168.6,344.6 169.2,346.1 169.8,344.3C170.5,342.6 170.9,337.2 171.8,333.2C172.7,329.2 174.0,324.0 175.1,320.1C176.2,316.2 177.2,312.4 178.4,309.6C179.6,306.9 181.2,305.3 182.3,303.7C183.4,302.2 184.1,300.1 184.9,300.5C185.7,300.8 186.1,304.9 186.9,305.7C187.6,306.5 188.7,305.4 189.5,305.1C190.2,304.7 190.9,303.0 191.4,303.7C192.0,304.5 192.1,308.2 192.8,309.6C193.4,311.1 194.3,312.0 195.4,312.3C196.5,312.5 198.1,311.8 199.3,310.9C200.5,310.1 201.5,307.9 202.6,307.0C203.7,306.1 205.0,306.3 205.8,305.7C206.7,305.2 207.3,305.5 207.8,303.7C208.4,302.0 208.8,297.5 209.1,295.2C209.4,292.9 209.5,292.5 209.8,290.0C210.0,287.5 210.0,283.7 210.5,280.1C210.9,276.5 211.9,270.5 212.4,268.3C213.0,266.1 213.3,266.4 213.7,267.0C214.2,267.7 214.6,270.5 215.1,272.3C215.5,274.0 215.8,276.7 216.4,277.5C216.9,278.3 217.7,277.2 218.3,276.8C219.0,276.5 219.7,275.0 220.3,275.5C220.8,276.1 221.1,278.3 221.6,280.1C222.1,282.0 222.9,284.8 223.6,286.6C224.2,288.5 224.9,290.6 225.5,291.2C226.2,291.9 226.8,291.1 227.5,290.6C228.1,290.0 228.7,288.2 229.5,288.0C230.2,287.7 231.2,288.5 232.1,289.3C232.9,290.0 233.8,290.8 234.7,292.5C235.6,294.3 236.5,296.8 237.3,299.7C238.1,302.7 238.7,306.7 239.3,310.2C239.8,313.7 240.2,317.3 240.6,320.7C241.0,324.1 241.2,329.5 241.7,330.5C242.2,331.4 243.1,327.5 243.7,326.5C244.3,325.6 244.8,323.9 245.4,324.6C245.9,325.2 246.5,328.8 246.9,330.5C247.4,332.1 247.6,334.0 248.3,334.4C248.9,334.8 250.1,333.0 250.9,333.1C251.6,333.2 252.2,334.1 252.8,335.1C253.5,336.0 253.9,338.3 254.8,339.0C255.7,339.6 257.2,339.7 258.1,339.0C258.9,338.2 259.5,335.4 260.0,334.4C260.6,333.4 260.9,332.2 261.3,333.1C261.8,334.0 262.1,337.8 262.6,339.6C263.2,341.5 264.1,344.0 264.6,344.2C265.2,344.4 265.4,342.0 265.9,340.9C266.5,339.9 267.0,338.4 267.9,337.7C268.8,336.9 270.3,337.6 271.2,336.4C272.0,335.2 272.6,331.8 273.1,330.5C273.7,329.2 274.0,328.1 274.4,328.5C274.9,328.9 275.2,331.3 275.7,333.1C276.3,334.8 276.9,337.2 277.7,339.0C278.5,340.7 279.4,342.0 280.3,343.6C281.2,345.1 282.2,347.9 282.9,348.1C283.7,348.4 284.1,346.1 284.9,344.9C285.7,343.7 286.6,341.7 287.5,340.9C288.4,340.2 289.4,339.7 290.1,340.3C290.9,340.8 291.2,343.1 292.1,344.2C293.0,345.3 294.5,345.4 295.4,346.8C296.2,348.3 296.7,350.4 297.3,352.7C298.0,355.0 298.5,359.0 299.3,360.6C300.1,362.1 301.0,362.1 301.9,361.9C302.8,361.7 303.8,361.9 304.5,359.3C305.3,356.6 306.0,349.5 306.5,346.2C307.0,342.9 307.4,341.3 307.8,339.6C308.2,338.0 308.7,336.4 309.1,336.4C309.6,336.4 309.9,337.6 310.4,339.6C311.0,341.7 311.6,345.6 312.4,348.8C313.2,352.0 314.2,358.4 315.0,358.6C315.8,358.8 316.3,352.1 317.0,350.1C317.6,348.1 318.1,347.4 318.9,346.8C319.8,346.3 321.3,345.4 322.2,346.8C323.1,348.3 323.5,352.6 324.2,355.3C324.8,358.1 325.3,360.3 326.0,363.2C326.7,366.1 327.6,369.3 328.6,372.9C329.6,376.5 330.9,380.6 331.9,384.7C332.9,388.9 333.7,393.9 334.5,397.8C335.3,401.7 335.9,405.5 336.5,408.3C337.1,411.0 337.5,415.0 338.0,414.2C338.6,413.3 339.2,406.3 339.7,403.0C340.3,399.8 340.9,395.0 341.4,394.5C342.0,394.1 342.5,398.6 343.0,400.4C343.5,402.3 343.8,407.0 344.3,405.7C344.9,404.3 345.5,395.4 346.3,392.6C347.1,389.7 347.9,389.9 348.9,388.6C349.9,387.3 351.1,386.1 352.2,384.7C353.3,383.3 354.6,381.0 355.5,380.1C356.3,379.3 356.9,377.6 357.4,379.5C358.0,381.3 358.3,387.3 358.7,391.3C359.2,395.2 359.6,402.8 360.0,403.0C360.5,403.3 360.8,397.4 361.3,392.6C361.9,387.8 362.6,378.1 363.3,374.2C364.0,370.4 364.5,370.5 365.3,369.7C366.0,368.8 367.0,369.3 367.9,369.0C368.8,368.7 369.7,369.4 370.5,367.7C371.3,366.0 371.7,361.5 372.5,358.5C373.2,355.6 374.3,351.6 375.1,350.0C375.8,348.5 376.4,348.2 377.0,349.4C377.7,350.6 378.4,357.4 379.0,357.2C379.7,357.0 380.4,349.9 381.0,348.1C381.6,346.2 382.0,345.2 382.5,346.1C383.1,347.0 383.6,351.0 384.2,353.3C384.9,355.6 385.4,359.8 386.2,359.8C387.0,359.8 388.1,354.8 388.8,353.3C389.6,351.8 390.1,350.9 390.8,350.7C391.4,350.5 392.2,350.2 392.8,352.0C393.3,353.7 393.8,357.4 394.3,361.2C394.9,364.9 395.5,371.2 396.0,374.2C396.5,377.3 396.8,378.7 397.3,379.5C397.9,380.2 398.6,379.1 399.3,378.8C400.0,378.5 400.7,376.3 401.3,377.5C401.8,378.7 402.0,383.5 402.6,386.0C403.1,388.5 403.7,391.7 404.5,392.6C405.4,393.4 406.8,390.7 407.8,391.3C408.8,391.8 409.4,394.4 410.4,395.8C411.4,397.3 412.8,400.1 413.7,399.8C414.6,399.4 415.0,396.5 415.7,393.9C416.3,391.3 417.0,384.7 417.6,384.1C418.2,383.4 418.7,388.0 419.2,389.9C419.7,391.9 420.0,397.6 420.5,395.8C421.0,394.1 421.7,383.6 422.2,379.5C422.7,375.3 423.1,371.4 423.5,371.0C423.9,370.5 424.4,374.8 424.8,376.9C425.2,378.9 425.7,382.6 426.0,383.4C426.3,384.2 426.3,380.7 426.7,381.5C427.0,382.3 427.4,386.1 428.0,388.1C428.5,390.0 429.1,392.0 429.9,393.3C430.8,394.6 432.2,396.1 433.2,395.9C434.2,395.7 434.9,393.4 435.8,392.0C436.7,390.6 437.7,388.3 438.4,387.4C439.2,386.5 439.7,386.3 440.4,386.8C441.1,387.2 441.6,389.8 442.4,390.0C443.1,390.2 444.1,388.4 445.0,388.1C445.9,387.7 446.7,388.3 447.6,388.1C448.5,387.8 449.5,387.1 450.2,386.8C451.0,386.4 451.5,385.3 452.2,386.1C452.8,386.9 453.4,390.0 454.1,391.6C454.9,393.2 455.9,394.2 456.8,395.5C457.6,396.8 458.6,398.4 459.4,399.5C460.1,400.5 460.6,402.2 461.3,402.1C462.1,402.0 463.1,399.5 464.0,398.8C464.8,398.1 465.8,397.6 466.6,398.1C467.3,398.7 468.0,399.9 468.5,402.1C469.1,404.2 469.3,408.4 469.8,411.2C470.4,414.1 471.1,417.1 471.8,419.1C472.5,421.0 473.5,423.0 474.2,423.0C474.9,423.0 475.5,420.3 476.0,419.1C476.5,417.9 476.8,416.0 477.3,415.8C477.8,415.6 478.4,415.9 479.0,417.8C479.6,419.6 480.2,423.2 480.7,426.9C481.2,430.6 481.7,436.9 482.0,440.0C482.4,443.2 482.5,444.8 482.9,445.9C483.4,447.0 484.0,446.7 484.9,446.6C485.8,446.5 487.1,446.0 488.2,445.3C489.3,444.5 490.5,443.1 491.4,442.0C492.4,440.9 493.4,440.1 494.1,438.7C494.7,437.3 494.9,434.7 495.4,433.5C495.9,432.3 496.4,431.4 496.9,431.5C497.5,431.6 497.9,433.3 498.6,434.1C499.4,435.0 500.4,436.2 501.3,436.8C502.1,437.3 503.1,437.6 503.9,437.4C504.7,437.2 505.5,435.1 506.1,435.4C506.8,435.8 507.2,438.2 507.8,439.4C508.4,440.6 508.9,441.9 509.8,442.6C510.6,443.4 512.0,443.2 513.0,444.0C514.1,444.7 515.3,446.4 516.3,447.2C517.3,448.1 517.8,448.8 518.9,449.2C520.0,449.6 521.7,449.3 522.9,449.8C524.0,450.4 525.4,452.3 526.0,452.5C526.6,452.6 526.3,452.1 526.7,451.0C527.0,449.8 527.2,447.5 528.0,445.7C528.7,444.0 530.4,442.7 531.2,440.5C532.1,438.3 532.4,434.6 533.2,432.6C534.0,430.7 534.9,429.6 535.8,428.7C536.7,427.8 537.7,427.2 538.4,427.4C539.2,427.6 539.7,428.6 540.4,430.0C541.1,431.4 541.7,434.3 542.4,435.9C543.0,437.6 543.7,439.5 544.3,439.8C545.0,440.2 545.5,439.5 546.3,437.9C547.1,436.2 548.0,432.9 548.9,430.0C549.8,427.2 550.7,423.5 551.5,420.9C552.4,418.2 553.3,416.3 554.1,414.3C555.0,412.4 555.9,410.3 556.8,409.1C557.6,407.9 558.7,407.3 559.4,407.1C560.0,406.9 560.1,406.6 560.7,407.8C561.2,409.0 561.9,412.5 562.6,414.3C563.4,416.2 564.4,417.6 565.3,418.9C566.1,420.2 567.1,421.4 567.9,422.2C568.6,422.9 569.2,423.9 569.8,423.5C570.5,423.0 571.0,421.0 571.5,419.6C572.1,418.1 572.4,415.2 572.9,415.0C573.3,414.8 573.7,416.9 574.2,418.2C574.6,419.6 575.1,422.4 575.7,422.8C576.3,423.3 577.0,422.5 577.7,420.9C578.4,419.2 579.0,416.1 579.7,413.0C580.3,410.0 581.0,404.4 581.6,402.5C582.3,400.7 582.9,401.6 583.6,401.9C584.2,402.2 584.9,404.6 585.6,404.5C586.2,404.4 587.0,402.0 587.5,401.2C588.1,400.5 588.3,399.4 588.8,399.9C589.4,400.5 590.1,403.6 590.8,404.5C591.4,405.4 591.9,405.3 592.8,405.2C593.6,405.0 595.0,404.2 596.0,403.8C597.0,403.5 597.9,402.9 598.6,403.2C599.4,403.5 600.0,405.0 600.6,405.8C601.2,406.6 601.6,408.5 602.2,407.8C602.7,407.0 603.3,403.2 603.9,401.2C604.5,399.3 605.2,397.1 605.8,396.0C606.5,394.9 607.2,394.5 607.8,394.7C608.5,394.9 609.1,396.6 609.8,397.3C610.4,398.0 611.0,398.9 611.7,398.6C612.5,398.3 613.5,396.8 614.4,395.3C615.2,393.9 616.2,392.0 617.0,390.1C617.7,388.3 618.3,385.9 618.9,384.2C619.5,382.6 620.0,380.5 620.5,380.3C621.0,380.1 621.6,382.0 622.2,382.9C622.8,383.8 623.5,385.3 624.2,385.5C624.8,385.7 625.6,384.4 626.0,384.2C626.4,384.1 626.2,384.2 626.7,384.7C627.1,385.2 628.0,386.8 628.6,387.3C629.3,387.8 629.9,388.8 630.6,388.0C631.2,387.1 631.9,383.5 632.5,382.1C633.2,380.7 633.9,380.0 634.5,379.5C635.2,378.9 635.8,378.1 636.5,378.8C637.1,379.5 637.9,382.1 638.4,383.4C639.0,384.7 639.3,386.9 639.7,386.6C640.2,386.4 640.6,383.8 641.1,382.1C641.5,380.3 641.9,377.5 642.4,376.2C642.8,374.9 643.2,373.9 643.7,374.2C644.1,374.5 644.5,376.8 645.0,378.1C645.4,379.5 645.9,381.8 646.3,382.1C646.7,382.3 647.1,380.8 647.6,379.5C648.1,378.1 648.6,374.7 649.3,374.2C650.0,373.8 650.7,376.1 651.5,376.8C652.3,377.6 653.3,378.0 654.1,378.8C655.0,379.6 655.9,381.0 656.8,381.4C657.6,381.8 658.7,382.4 659.4,381.4C660.0,380.4 660.2,377.2 660.7,375.5C661.1,373.9 661.4,372.4 662.0,371.6C662.5,370.8 663.3,370.8 664.0,370.9C664.6,371.1 665.2,371.9 665.9,372.3C666.7,372.6 667.9,374.5 668.5,372.9C669.2,371.3 669.4,366.7 669.8,362.8C670.3,359.0 670.7,353.7 671.2,349.7C671.6,345.8 671.8,341.6 672.5,339.3C673.1,337.0 674.2,336.2 675.1,336.0C676.0,335.8 676.8,338.3 677.7,338.0C678.6,337.6 679.4,336.0 680.3,334.0C681.2,332.1 682.2,328.3 682.9,326.2C683.7,324.1 684.2,322.6 684.9,321.6C685.6,320.6 686.2,320.2 686.9,320.3C687.5,320.4 688.2,321.3 688.8,322.3C689.5,323.2 690.1,326.4 690.8,326.2C691.4,326.0 692.2,322.4 692.8,320.9C693.3,319.5 693.6,317.7 694.1,317.7C694.5,317.7 694.9,319.2 695.4,320.9C695.8,322.7 696.1,326.5 696.7,328.1C697.2,329.8 697.9,330.3 698.6,330.8C699.4,331.2 700.5,330.2 701.3,330.8C702.0,331.3 702.5,332.4 703.2,334.0C704.0,335.7 704.9,338.0 705.8,340.6C706.8,343.2 708.0,346.5 709.1,349.7C710.2,353.0 711.4,356.7 712.4,360.2C713.4,363.7 714.4,367.7 715.0,370.7C715.7,373.7 715.9,374.7 716.3,378.1C716.8,381.6 717.2,387.2 717.6,391.2C718.1,395.3 718.5,401.3 718.9,402.4C719.4,403.4 719.8,400.1 720.2,397.8C720.7,395.5 721.2,390.4 721.5,388.6C721.9,386.9 722.3,386.0 722.6,387.3C722.9,388.6 723.1,392.8 723.5,396.5C723.9,400.2 724.4,406.7 724.8,409.6C725.2,412.4 725.6,413.8 726.0,413.5C726.4,413.2 726.7,409.5 727.1,407.6C727.5,405.8 728.0,403.4 728.4,402.4C728.9,401.4 729.3,401.1 729.7,401.8C730.2,402.4 730.6,405.1 731.1,406.3C731.5,407.5 731.9,410.0 732.4,409.0C732.8,407.9 733.2,402.1 733.7,399.8C734.2,397.5 734.7,396.0 735.4,395.2C736.0,394.4 736.9,394.7 737.6,394.8C738.3,394.9 739.0,395.0 739.6,395.9C740.1,396.7 740.2,399.0 740.9,399.8C741.5,400.6 742.7,400.1 743.5,400.4C744.3,400.8 745.2,400.6 745.8,401.8C746.5,403.0 746.7,405.4 747.2,407.6C747.6,409.9 748.2,412.5 748.7,415.5C749.2,418.5 749.5,422.2 750.0,425.6C750.6,429.0 751.4,432.8 752.0,436.0C752.5,439.3 752.9,443.4 753.3,445.2C753.7,447.1 753.9,447.5 754.2,447.2C754.5,446.8 754.9,446.0 755.3,443.2C755.7,440.5 756.1,434.4 756.6,430.8C757.0,427.2 757.3,424.0 757.9,421.6C758.4,419.2 759.4,417.7 759.8,416.4C760.3,415.2 760.2,416.5 760.5,414.2C760.8,411.9 761.2,407.6 761.5,402.4C761.9,397.2 762.2,387.7 762.5,382.8C762.8,377.9 763.1,374.8 763.4,373.0C763.7,371.1 764.0,370.9 764.4,371.6C764.8,372.4 765.3,374.6 765.7,377.5C766.2,380.5 766.9,385.2 767.3,389.3C767.7,393.5 768.0,397.6 768.4,402.4C768.7,407.2 769.1,413.6 769.4,418.1C769.7,422.6 769.9,424.6 770.3,429.5C770.7,434.5 771.2,441.5 771.6,447.8C772.1,454.2 772.5,461.6 772.9,467.5C773.4,473.4 773.9,478.7 774.2,483.2C774.6,487.7 774.6,490.0 774.9,494.6C775.2,499.1 775.8,506.8 776.2,510.3C776.6,513.8 777.0,514.0 777.5,515.5C778.1,517.0 778.9,517.0 779.5,519.4C780.0,521.8 780.4,526.0 780.8,529.9C781.2,533.8 781.5,539.4 781.8,543.0C782.2,546.6 782.5,549.7 782.8,551.5C783.0,553.2 783.1,554.0 783.4,553.5C783.7,552.9 784.0,551.3 784.3,548.2C784.7,545.2 785.0,541.0 785.4,535.1C785.8,529.2 786.3,519.9 786.7,512.9C787.1,505.9 787.4,498.9 787.7,493.2C788.0,487.6 788.1,482.2 788.4,479.2C788.6,476.3 788.8,476.1 789.3,475.6C789.8,475.1 790.7,475.5 791.3,476.4C791.9,477.2 792.5,478.3 793.0,480.5C793.5,482.8 793.9,485.4 794.3,489.7C794.6,494.0 794.8,501.4 795.2,506.3C795.6,511.3 796.1,516.0 796.5,519.4C796.9,522.8 797.4,525.1 797.8,526.6C798.2,528.2 798.4,528.9 798.7,528.6C799.0,528.3 799.4,526.8 799.8,524.7C800.2,522.5 800.7,517.8 801.1,515.5C801.5,513.2 801.7,510.9 802.1,510.9C802.5,510.9 803.0,513.2 803.4,515.5C803.9,517.8 804.4,522.9 804.7,524.7C805.1,526.4 805.3,526.8 805.7,526.0C806.0,525.1 806.5,521.3 807.0,519.4C807.4,517.6 807.9,515.3 808.3,514.8C808.6,514.4 808.8,514.7 809.2,516.8C809.6,518.9 810.1,523.6 810.5,527.3C810.9,531.0 811.3,535.6 811.8,539.1C812.3,542.5 812.8,546.1 813.5,548.2C814.2,550.3 815.5,552.2 816.0,551.5C816.5,550.8 816.3,546.7 816.5,543.8C816.7,540.9 816.7,537.9 817.0,534.1C817.3,530.2 817.8,521.0 818.2,520.6C818.6,520.2 819.0,527.9 819.4,531.6C819.8,535.4 820.3,541.1 820.6,543.2C821.0,545.4 821.1,545.6 821.5,544.4C821.8,543.3 822.2,539.2 822.7,536.5C823.2,533.9 823.8,530.4 824.3,528.6C824.9,526.7 825.5,526.4 826.0,525.5C826.6,524.6 827.1,524.4 827.6,523.1C828.1,521.8 828.7,518.8 829.2,517.6C829.7,516.3 830.2,515.6 830.6,515.5C831.1,515.4 831.5,515.8 832.1,517.0C832.7,518.1 833.4,520.4 834.1,522.5C834.7,524.5 835.5,526.9 836.1,529.2C836.8,531.4 837.4,533.9 838.0,535.9C838.5,537.9 838.9,540.2 839.4,541.4C839.9,542.5 840.5,542.4 841.0,542.9C841.6,543.3 842.3,542.7 842.9,543.8C843.4,545.0 843.9,547.7 844.3,549.9C844.8,552.2 845.1,555.8 845.5,557.3C845.9,558.7 846.4,559.0 846.8,558.5C847.2,558.0 847.5,555.5 848.0,554.2C848.5,552.9 849.1,550.6 849.6,550.5C850.0,550.4 850.4,552.2 850.8,553.6C851.2,555.0 851.6,558.0 852.0,559.1C852.4,560.2 852.7,560.5 853.2,560.3C853.7,560.1 854.5,558.4 855.1,557.9C855.7,557.4 856.3,557.2 856.9,557.3C857.5,557.4 858.2,558.3 858.7,558.5C859.3,558.7 859.7,559.1 860.2,558.5C860.7,557.9 861.3,556.9 861.8,554.8C862.2,552.8 862.6,549.3 863.0,546.3C863.4,543.2 863.8,538.9 864.2,536.5C864.6,534.1 864.9,532.6 865.4,531.6C865.9,530.6 866.7,531.0 867.3,530.6C867.8,530.3 868.2,530.9 868.7,529.8C869.2,528.7 869.8,526.2 870.3,524.3C870.9,522.4 871.5,519.8 872.2,518.2C872.8,516.6 873.4,515.3 874.0,514.5C874.6,513.8 875.0,513.5 875.6,513.6C876.1,513.7 876.7,514.5 877.3,515.1C877.8,515.8 878.3,516.6 878.9,517.6C879.4,518.6 879.9,520.5 880.5,521.2C881.0,522.0 881.5,522.7 881.9,522.1C882.4,521.5 882.7,519.1 883.1,517.6C883.6,516.1 884.2,513.8 884.6,513.1C885.1,512.4 885.4,512.7 885.8,513.3C886.3,514.0 886.9,516.4 887.4,517.0C887.9,517.6 888.2,518.2 888.6,517.0C889.0,515.8 889.5,512.1 889.9,509.7C890.2,507.2 890.3,504.0 890.7,502.3C891.1,500.7 891.7,500.4 892.3,499.9C892.9,499.4 893.6,499.1 894.1,499.3C894.6,499.5 895.0,499.6 895.3,501.1C895.7,502.6 896.0,506.4 896.3,508.4C896.7,510.5 897.1,512.9 897.5,513.3C898.0,513.7 898.5,512.2 899.0,510.9C899.6,509.5 900.3,507.9 900.8,505.4C901.4,502.9 901.9,498.0 902.4,496.0C902.9,494.1 903.4,493.6 903.9,493.6C904.4,493.6 904.8,495.0 905.4,496.0C905.9,497.1 906.4,499.9 906.9,499.7C907.5,499.5 908.0,496.3 908.5,494.8C909.0,493.3 909.5,491.0 910.0,490.5C910.5,490.1 911.0,491.4 911.5,492.4C912.0,493.4 912.5,495.3 913.0,496.7C913.6,498.0 914.3,499.5 914.9,500.3C915.4,501.1 915.8,501.9 916.3,501.5C916.9,501.1 917.4,499.0 917.9,497.9C918.5,496.8 919.0,495.0 919.5,494.8C920.0,494.6 920.5,495.6 921.0,496.7C921.4,497.7 921.8,499.5 922.2,501.1C922.6,502.7 922.9,504.4 923.4,506.0C923.9,507.6 924.6,509.4 925.3,510.9C925.9,512.3 926.5,513.6 927.1,514.5C927.7,515.5 928.3,516.2 928.9,516.7C929.5,517.2 930.1,517.4 930.7,517.6C931.4,517.8 932.1,517.3 932.6,518.0C933.1,518.6 933.4,520.0 933.8,521.2C934.2,522.5 934.6,524.3 935.0,525.5C935.5,526.7 936.0,527.8 936.6,528.6C937.2,529.4 938.3,530.1 938.7,530.4" fill="none" stroke="#0033ff" stroke-width="2" stroke-linejoin="round" stroke-linecap="round"/>
<text transform="translate(42.3,588.6) rotate(-14)" text-anchor="middle" y="4.4" font-size="12.3" fill="#c4c4cc">5:55</text>
<text transform="translate(46.9,588.6) rotate(-14)" text-anchor="middle" y="4.4" font-size="12.3" fill="#555560">6:00</text>
<text transform="translate(116.8,588.6) rotate(-14)" text-anchor="middle" y="4.4" font-size="12.3" fill="#555560">8:00</text>
<text transform="translate(193.1,588.6) rotate(-14)" text-anchor="middle" y="4.4" font-size="12.3" fill="#555560">10:00</text>
<text transform="translate(268.8,588.6) rotate(-14)" text-anchor="middle" y="4.4" font-size="12.3" fill="#555560">12:00</text>
<text transform="translate(345.3,588.6) rotate(-14)" text-anchor="middle" y="4.4" font-size="12.3" fill="#555560">14:00</text>
<text transform="translate(421.9,588.6) rotate(-14)" text-anchor="middle" y="4.4" font-size="12.3" fill="#555560">16:00</text>
<text transform="translate(498.5,588.6) rotate(-14)" text-anchor="middle" y="4.4" font-size="12.3" fill="#555560">18:00</text>
<text transform="translate(574.1,588.6) rotate(-14)" text-anchor="middle" y="4.4" font-size="12.3" fill="#555560">20:00</text>
<text transform="translate(650.6,588.6) rotate(-14)" text-anchor="middle" y="4.4" font-size="12.3" fill="#555560">22:00</text>
<text transform="translate(727.3,588.6) rotate(-14)" text-anchor="middle" y="4.4" font-size="12.3" fill="#555560">0:00</text>
<text transform="translate(803.8,588.6) rotate(-14)" text-anchor="middle" y="4.4" font-size="12.3" fill="#555560">2:00</text>
<text transform="translate(880.6,588.6) rotate(-14)" text-anchor="middle" y="4.4" font-size="12.3" fill="#555560">4:00</text>
<text transform="translate(940.3,588.6) rotate(-14)" text-anchor="middle" y="4.4" font-size="12.3" fill="#555560">5:35</text>
<rect x="983.8" y="224.1" width="24.4" height="13.4" fill="#00ccff"/>
<text x="980.2" y="235.5" text-anchor="end" font-size="10.2" font-weight="bold" letter-spacing="0.7" fill="#44444c">JPY</text>
<rect x="983.8" y="245.8" width="24.4" height="13.4" fill="#996600"/>
<text x="980.2" y="257.1" text-anchor="end" font-size="10.2" font-weight="bold" letter-spacing="0.7" fill="#44444c">CHF</text>
<rect x="983.8" y="267.4" width="24.4" height="13.4" fill="#ff9900"/>
<text x="980.2" y="278.8" text-anchor="end" font-size="10.2" font-weight="bold" letter-spacing="0.7" fill="#44444c">USD</text>
<rect x="983.8" y="289.0" width="24.4" height="13.4" fill="#00cc00"/>
<text x="980.2" y="300.4" text-anchor="end" font-size="10.2" font-weight="bold" letter-spacing="0.7" fill="#44444c">GBP</text>
<rect x="983.8" y="310.7" width="24.4" height="13.4" fill="#ff0000"/>
<text x="980.2" y="322.1" text-anchor="end" font-size="10.2" font-weight="bold" letter-spacing="0.7" fill="#44444c">EUR</text>
<rect x="983.8" y="332.4" width="24.4" height="13.4" fill="#6600ff"/>
<text x="980.2" y="343.8" text-anchor="end" font-size="10.2" font-weight="bold" letter-spacing="0.7" fill="#44444c">CAD</text>
<rect x="983.8" y="354.0" width="24.4" height="13.4" fill="#ff33cc"/>
<text x="980.2" y="365.4" text-anchor="end" font-size="10.2" font-weight="bold" letter-spacing="0.7" fill="#44444c">NZD</text>
<rect x="983.8" y="375.6" width="24.4" height="13.4" fill="#0033ff"/>
<text x="980.2" y="387.0" text-anchor="end" font-size="10.2" font-weight="bold" letter-spacing="0.7" fill="#44444c">AUD</text>
</svg>
<div class="title">Today  (05:55~)</div>
<div class="logo"><svg width="25.6" height="25.6" viewBox="0 0 25.6 25.6" style="display:block"><circle cx="15.9" cy="9.9" r="7.7" fill="none" stroke="#e4f2f8" stroke-width="1.3"/><path d="M9.3 14.3l2.2 2.2-6.9 7a1.55 1.55 0 0 1-2.2-2.2z" fill="none" stroke="#e4f2f8" stroke-width="1.1"/><rect x="11.6" y="6" width="1.7" height="5.2" fill="#7dff6a"/><rect x="14.8" y="4.6" width="1.7" height="4.6" fill="#7dff6a"/><rect x="17.6" y="9" width="1.7" height="5.4" fill="#7dff6a"/><rect x="20.4" y="6" width="1.5" height="3.8" fill="#7dff6a"/></svg></div>
<div class="logot">Chart By<br>FX-Labo</div>
<div class="btn" style="left:961px;top:7.7px"><svg width="27.6" height="27.6" style="display:block" viewBox="0 0 28 28"><rect x="7.4" y="12.1" width="13.2" height="3.8" fill="#fff"/><path d="M14 4.6v4M14 23.4v-4" stroke="#fff" stroke-width="1.7" fill="none"/><path d="M11 7.6h6l-3 3.3zM11 20.4h6l-3-3.3z" fill="#fff"/></svg></div>
<div class="btn" style="left:992.6px;top:7.7px"><svg width="27.6" height="27.6" style="display:block" viewBox="0 0 28 28"><path d="M7.3 6.4h13.4M7.3 21.6h13.4" stroke="#fff" stroke-width="1.5"/><path d="M14 10.5v7" stroke="#fff" stroke-width="1.7" fill="none"/><path d="M11 11.6h6l-3-3.4zM11 16.4h6l-3 3.4z" fill="#fff"/></svg></div>
<div class="ev"><svg width="39" height="39" viewBox="0 0 39 39" style="position:absolute;left:0;top:0"><rect x="14.2" y="5.6" width="10.1" height="10" fill="none" stroke="#fff" stroke-width="1.6"/><rect x="13.4" y="4.8" width="11.7" height="3.6" fill="#fff"/><rect x="16.1" y="3.5" width="1.4" height="2" fill="#fff"/><rect x="21.5" y="3.5" width="1.4" height="2" fill="#fff"/><rect x="19" y="10.6" width="3.7" height="3.4" fill="#fff"/></svg><span>イベント</span></div>
</body></html>
